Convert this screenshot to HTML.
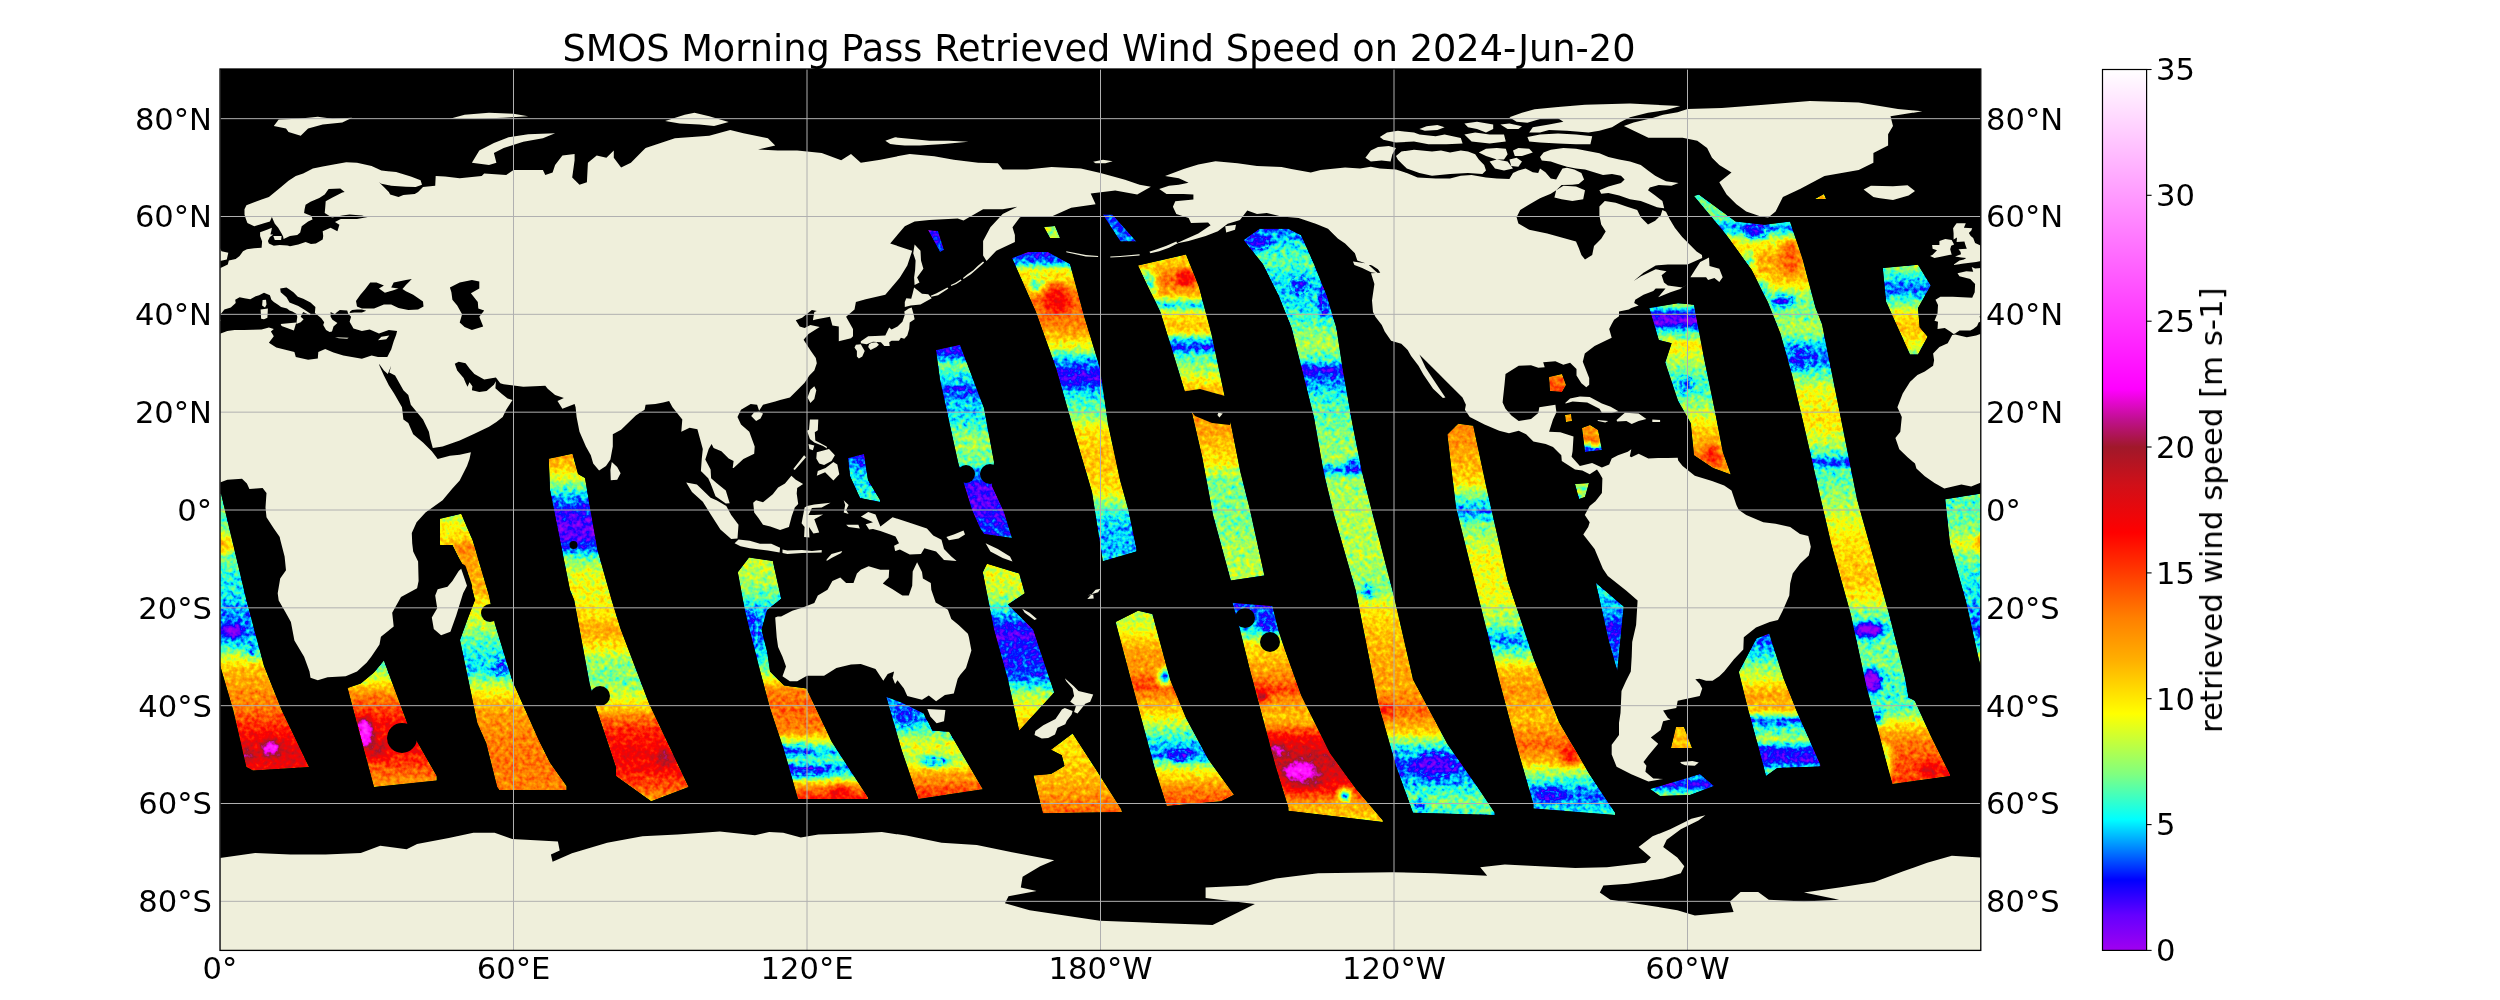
<!DOCTYPE html>
<html><head><meta charset="utf-8"><style>
html,body{margin:0;padding:0;background:#fff;width:2500px;height:1000px;overflow:hidden}
svg{display:block}
text{font-family:'DejaVu Sans','Liberation Sans',sans-serif;font-size:30.6px;fill:#000}
</style></head><body>
<svg width="2500" height="1000" viewBox="0 0 2500 1000">
<defs>
<clipPath id="pc"><rect x="220.0" y="69.0" width="1760.8" height="881.4"/></clipPath>
<linearGradient id="cbg" x1="0" y1="0" x2="0" y2="1"><stop offset="0.0000" stop-color="rgb(255,255,255)"/><stop offset="0.3286" stop-color="rgb(255,24,255)"/><stop offset="0.3629" stop-color="rgb(255,0,255)"/><stop offset="0.3971" stop-color="rgb(192,16,144)"/><stop offset="0.4286" stop-color="rgb(160,24,42)"/><stop offset="0.4714" stop-color="rgb(208,16,24)"/><stop offset="0.5257" stop-color="rgb(255,0,0)"/><stop offset="0.5629" stop-color="rgb(255,48,0)"/><stop offset="0.6229" stop-color="rgb(255,128,0)"/><stop offset="0.6714" stop-color="rgb(255,176,0)"/><stop offset="0.7314" stop-color="rgb(255,255,0)"/><stop offset="0.8000" stop-color="rgb(128,255,128)"/><stop offset="0.8514" stop-color="rgb(0,255,255)"/><stop offset="0.8857" stop-color="rgb(0,128,255)"/><stop offset="0.9200" stop-color="rgb(0,0,255)"/><stop offset="0.9600" stop-color="rgb(100,0,255)"/><stop offset="1.0000" stop-color="rgb(160,0,240)"/></linearGradient>
</defs>
<rect width="2500" height="1000" fill="#fff"/>
<g clip-path="url(#pc)">
<rect x="220.0" y="69.0" width="1760.8" height="881.4" fill="#000"/>
<defs><filter id="cm" filterUnits="userSpaceOnUse" x="0" y="0" width="2500" height="1000" color-interpolation-filters="sRGB"><feTurbulence type="fractalNoise" baseFrequency="0.22" numOctaves="2" seed="7" result="n"/><feColorMatrix in="n" type="matrix" values="1 0 0 0 0 1 0 0 0 0 1 0 0 0 0 0 0 0 0 1" result="ng"/><feComposite in="SourceGraphic" in2="ng" operator="arithmetic" k1="0" k2="1" k3="0.17" k4="-0.085" result="v"/><feComponentTransfer in="v" result="c"><feFuncR type="table" tableValues="0.6275 0.5451 0.4588 0.3647 0.2235 0.0824 0.0000 0.0000 0.0000 0.0000 0.0000 0.0824 0.2235 0.3608 0.5020 0.6039 0.7098 0.8118 0.9176 1.0000 1.0000 1.0000 1.0000 1.0000 1.0000 1.0000 1.0000 1.0000 1.0000 1.0000 1.0000 1.0000 1.0000 1.0000 0.9608 0.9137 0.8627 0.8157 0.7529 0.6902 0.6275 0.6863 0.7412 0.8353 0.9373 1.0000 1.0000 1.0000 1.0000 1.0000 1.0000 1.0000 1.0000 1.0000 1.0000 1.0000 1.0000 1.0000 1.0000 1.0000 1.0000 1.0000 1.0000 1.0000 1.0000 1.0000 1.0000 1.0000 1.0000 1.0000 1.0000"/><feFuncG type="table" tableValues="0.0000 0.0000 0.0000 0.0000 0.0000 0.0000 0.0824 0.2941 0.5020 0.7098 0.9176 1.0000 1.0000 1.0000 1.0000 1.0000 1.0000 1.0000 1.0000 0.9843 0.9098 0.8392 0.7647 0.6902 0.6353 0.5804 0.5255 0.4588 0.3843 0.3059 0.2314 0.1608 0.0863 0.0157 0.0118 0.0314 0.0471 0.0627 0.0745 0.0824 0.0941 0.0784 0.0667 0.0431 0.0157 0.0157 0.0549 0.0941 0.1333 0.1725 0.2118 0.2510 0.2902 0.3294 0.3686 0.4078 0.4471 0.4863 0.5255 0.5686 0.6078 0.6471 0.6863 0.7255 0.7647 0.8039 0.8431 0.8824 0.9216 0.9608 1.0000"/><feFuncB type="table" tableValues="0.9412 0.9608 0.9843 1.0000 1.0000 1.0000 1.0000 1.0000 1.0000 1.0000 1.0000 0.9176 0.7804 0.6392 0.5020 0.3961 0.2941 0.1882 0.0824 0.0000 0.0000 0.0000 0.0000 0.0000 0.0000 0.0000 0.0000 0.0000 0.0000 0.0000 0.0000 0.0000 0.0000 0.0000 0.0196 0.0431 0.0706 0.0941 0.1176 0.1412 0.1647 0.3451 0.5294 0.7098 0.8902 1.0000 1.0000 1.0000 1.0000 1.0000 1.0000 1.0000 1.0000 1.0000 1.0000 1.0000 1.0000 1.0000 1.0000 1.0000 1.0000 1.0000 1.0000 1.0000 1.0000 1.0000 1.0000 1.0000 1.0000 1.0000 1.0000"/><feFuncA type="identity"/></feComponentTransfer><feComposite in="c" in2="SourceAlpha" operator="in"/></filter><filter id="bl" x="-50%" y="-50%" width="200%" height="200%"><feGaussianBlur stdDeviation="3"/></filter><linearGradient id="g_SA" gradientUnits="userSpaceOnUse" x1="0" y1="493.5" x2="0" y2="770.5"><stop offset="0.0054" stop-color="#2f2f2f"/><stop offset="0.0957" stop-color="#2f2f2f"/><stop offset="0.1498" stop-color="#3a3a3a"/><stop offset="0.1859" stop-color="#424242"/><stop offset="0.2220" stop-color="#333333"/><stop offset="0.2942" stop-color="#2a2a2a"/><stop offset="0.3845" stop-color="#242424"/><stop offset="0.4278" stop-color="#1f1f1f"/><stop offset="0.4639" stop-color="#1c1c1c"/><stop offset="0.5108" stop-color="#1f1f1f"/><stop offset="0.5469" stop-color="#262626"/><stop offset="0.5830" stop-color="#3a3a3a"/><stop offset="0.6300" stop-color="#505050"/><stop offset="0.7094" stop-color="#5b5b5b"/><stop offset="0.7816" stop-color="#626262"/><stop offset="0.8357" stop-color="#717171"/><stop offset="0.8899" stop-color="#7c7c7c"/><stop offset="0.9440" stop-color="#838383"/><stop offset="0.9982" stop-color="#7c7c7c"/></linearGradient><clipPath id="c_SA"><path d="M184.7,499.2L221.0,493.5L246.4,600.0L264.0,666.0L281.6,710.0L308.0,765.0L309.0,767.0L253.0,770.5L246.4,767.0L233.2,710.0L218.3,659.2L205.5,601.6L189.5,544.0ZM1945.2,499.2L1981.5,493.5L2006.9,600.0L2024.5,666.0L2042.1,710.0L2068.5,765.0L2069.5,767.0L2013.5,770.5L2006.9,767.0L1993.7,710.0L1978.8,659.2L1966.0,601.6L1950.0,544.0Z"/></clipPath><linearGradient id="g_B" gradientUnits="userSpaceOnUse" x1="0" y1="660.5" x2="0" y2="787.0"><stop offset="0.0000" stop-color="#2c2c2c"/><stop offset="0.1542" stop-color="#424242"/><stop offset="0.2727" stop-color="#5f5f5f"/><stop offset="0.3913" stop-color="#6d6d6d"/><stop offset="0.5099" stop-color="#787878"/><stop offset="0.6680" stop-color="#7c7c7c"/><stop offset="0.8261" stop-color="#6d6d6d"/><stop offset="1.0000" stop-color="#575757"/></linearGradient><clipPath id="c_B"><path d="M347.6,688.0L360.8,683.6L374.0,672.6L383.9,660.5L408.1,725.4L419.1,745.2L436.7,776.0L436.7,780.4L374.0,787.0Z"/></clipPath><linearGradient id="g_C" gradientUnits="userSpaceOnUse" x1="0" y1="513.8" x2="0" y2="790.0"><stop offset="0.0009" stop-color="#3e3e3e"/><stop offset="0.0588" stop-color="#454545"/><stop offset="0.1131" stop-color="#505050"/><stop offset="0.1674" stop-color="#575757"/><stop offset="0.2760" stop-color="#545454"/><stop offset="0.3122" stop-color="#494949"/><stop offset="0.3846" stop-color="#3e3e3e"/><stop offset="0.4570" stop-color="#2f2f2f"/><stop offset="0.5113" stop-color="#282828"/><stop offset="0.5656" stop-color="#242424"/><stop offset="0.6090" stop-color="#373737"/><stop offset="0.6742" stop-color="#505050"/><stop offset="0.7466" stop-color="#5b5b5b"/><stop offset="0.8190" stop-color="#5f5f5f"/><stop offset="0.8914" stop-color="#626262"/><stop offset="1.0000" stop-color="#5f5f5f"/></linearGradient><clipPath id="c_C"><path d="M440.0,518.8L461.2,513.8L472.5,540.0L488.8,595.0L495.0,624.2L512.6,681.4L539.0,740.8L550.0,762.8L566.5,785.9L566.5,790.0L499.4,790.0L497.2,787.0L486.2,743.0L477.4,723.2L460.0,640.0L468.0,618.0L475.0,600.0L472.5,590.0L467.5,572.5L460.0,560.0L452.5,545.0L440.0,545.0Z"/></clipPath><linearGradient id="g_D" gradientUnits="userSpaceOnUse" x1="0" y1="453.8" x2="0" y2="801.3"><stop offset="0.0036" stop-color="#575757"/><stop offset="0.0468" stop-color="#4c4c4c"/><stop offset="0.0899" stop-color="#333333"/><stop offset="0.1331" stop-color="#1d1d1d"/><stop offset="0.1676" stop-color="#121212"/><stop offset="0.2050" stop-color="#0b0b0b"/><stop offset="0.2424" stop-color="#0b0b0b"/><stop offset="0.2712" stop-color="#1a1a1a"/><stop offset="0.3057" stop-color="#333333"/><stop offset="0.3489" stop-color="#424242"/><stop offset="0.4208" stop-color="#454545"/><stop offset="0.4640" stop-color="#494949"/><stop offset="0.5071" stop-color="#575757"/><stop offset="0.5503" stop-color="#494949"/><stop offset="0.5934" stop-color="#373737"/><stop offset="0.6510" stop-color="#333333"/><stop offset="0.6941" stop-color="#3e3e3e"/><stop offset="0.7373" stop-color="#505050"/><stop offset="0.7661" stop-color="#666666"/><stop offset="0.8092" stop-color="#757575"/><stop offset="0.8668" stop-color="#7c7c7c"/><stop offset="0.9099" stop-color="#787878"/><stop offset="0.9675" stop-color="#666666"/><stop offset="0.9963" stop-color="#575757"/></linearGradient><clipPath id="c_D"><path d="M548.8,458.8L572.5,453.8L578.0,474.0L585.0,478.0L590.0,507.5L597.5,550.0L611.6,600.0L620.4,628.6L649.0,703.4L688.6,787.0L651.2,801.3L616.0,776.0L616.0,767.2L596.2,707.8L589.6,683.6L574.2,600.0L570.0,590.0L560.0,540.0L550.0,490.0Z"/></clipPath><linearGradient id="g_E" gradientUnits="userSpaceOnUse" x1="0" y1="557.4" x2="0" y2="799.0"><stop offset="0.0000" stop-color="#3e3e3e"/><stop offset="0.0935" stop-color="#3a3a3a"/><stop offset="0.1763" stop-color="#2c2c2c"/><stop offset="0.2384" stop-color="#212121"/><stop offset="0.3419" stop-color="#212121"/><stop offset="0.4247" stop-color="#282828"/><stop offset="0.4868" stop-color="#3a3a3a"/><stop offset="0.5488" stop-color="#5f5f5f"/><stop offset="0.6316" stop-color="#666666"/><stop offset="0.7144" stop-color="#5f5f5f"/><stop offset="0.7765" stop-color="#333333"/><stop offset="0.8055" stop-color="#212121"/><stop offset="0.8386" stop-color="#2f2f2f"/><stop offset="0.8717" stop-color="#1d1d1d"/><stop offset="0.9048" stop-color="#2f2f2f"/><stop offset="0.9545" stop-color="#5f5f5f"/><stop offset="1.0000" stop-color="#757575"/></linearGradient><clipPath id="c_E"><path d="M737.8,572.2L749.0,557.4L772.8,561.0L781.2,598.8L767.2,610.0L761.6,629.6L767.2,652.0L770.0,671.6L784.0,685.6L806.4,688.4L831.6,741.6L868.0,797.6L868.0,799.0L798.0,799.0L784.0,750.0L770.0,708.0L758.8,666.0L744.8,610.0Z"/></clipPath><linearGradient id="g_F" gradientUnits="userSpaceOnUse" x1="0" y1="454.0" x2="0" y2="502.0"><stop offset="0.0000" stop-color="#161616"/><stop offset="0.3333" stop-color="#242424"/><stop offset="0.7500" stop-color="#282828"/><stop offset="1.0000" stop-color="#2c2c2c"/></linearGradient><clipPath id="c_F"><path d="M848.0,458.0L864.0,454.0L868.0,480.0L880.0,500.0L880.0,502.0L860.0,498.0L850.0,476.0Z"/></clipPath><linearGradient id="g_G" gradientUnits="userSpaceOnUse" x1="0" y1="696.8" x2="0" y2="799.0"><stop offset="0.0020" stop-color="#212121"/><stop offset="0.1781" stop-color="#1d1d1d"/><stop offset="0.3249" stop-color="#2c2c2c"/><stop offset="0.4716" stop-color="#424242"/><stop offset="0.6184" stop-color="#3a3a3a"/><stop offset="0.7652" stop-color="#575757"/><stop offset="0.9119" stop-color="#6a6a6a"/><stop offset="1.0000" stop-color="#717171"/></linearGradient><clipPath id="c_G"><path d="M886.2,696.8L901.6,702.4L924.0,713.6L932.4,730.4L949.2,731.8L982.8,789.2L918.4,799.0L901.6,750.0Z"/></clipPath><linearGradient id="g_H" gradientUnits="userSpaceOnUse" x1="0" y1="344.8" x2="0" y2="538.0"><stop offset="0.0010" stop-color="#0f0f0f"/><stop offset="0.0528" stop-color="#161616"/><stop offset="0.1046" stop-color="#333333"/><stop offset="0.1822" stop-color="#242424"/><stop offset="0.2340" stop-color="#161616"/><stop offset="0.2857" stop-color="#212121"/><stop offset="0.3892" stop-color="#282828"/><stop offset="0.4928" stop-color="#373737"/><stop offset="0.5963" stop-color="#333333"/><stop offset="0.6480" stop-color="#242424"/><stop offset="0.7257" stop-color="#0f0f0f"/><stop offset="0.8033" stop-color="#0b0b0b"/><stop offset="0.9068" stop-color="#121212"/><stop offset="1.0000" stop-color="#1a1a1a"/></linearGradient><linearGradient id="g_I1" gradientUnits="userSpaceOnUse" x1="0" y1="563.8" x2="0" y2="730.4"><stop offset="0.0012" stop-color="#424242"/><stop offset="0.1573" stop-color="#3e3e3e"/><stop offset="0.2473" stop-color="#2f2f2f"/><stop offset="0.3373" stop-color="#1a1a1a"/><stop offset="0.4274" stop-color="#0d0d0d"/><stop offset="0.5174" stop-color="#161616"/><stop offset="0.6074" stop-color="#141414"/><stop offset="0.6975" stop-color="#1d1d1d"/><stop offset="0.7875" stop-color="#3a3a3a"/><stop offset="0.9076" stop-color="#494949"/><stop offset="0.9976" stop-color="#505050"/></linearGradient><linearGradient id="g_I2" gradientUnits="userSpaceOnUse" x1="0" y1="733.6" x2="0" y2="813.3"><stop offset="0.0050" stop-color="#494949"/><stop offset="0.3312" stop-color="#4c4c4c"/><stop offset="0.7077" stop-color="#575757"/><stop offset="0.9962" stop-color="#666666"/></linearGradient><linearGradient id="g_J1" gradientUnits="userSpaceOnUse" x1="0" y1="252.0" x2="0" y2="561.2"><stop offset="0.0000" stop-color="#0f0f0f"/><stop offset="0.0323" stop-color="#1d1d1d"/><stop offset="0.0582" stop-color="#424242"/><stop offset="0.1067" stop-color="#545454"/><stop offset="0.1552" stop-color="#666666"/><stop offset="0.2199" stop-color="#626262"/><stop offset="0.2684" stop-color="#545454"/><stop offset="0.3169" stop-color="#3a3a3a"/><stop offset="0.3493" stop-color="#212121"/><stop offset="0.3978" stop-color="#0f0f0f"/><stop offset="0.4301" stop-color="#161616"/><stop offset="0.4625" stop-color="#282828"/><stop offset="0.5272" stop-color="#333333"/><stop offset="0.5757" stop-color="#494949"/><stop offset="0.6727" stop-color="#505050"/><stop offset="0.7697" stop-color="#494949"/><stop offset="0.8182" stop-color="#333333"/><stop offset="0.8668" stop-color="#242424"/><stop offset="0.9314" stop-color="#212121"/><stop offset="0.9961" stop-color="#242424"/></linearGradient><clipPath id="c_J1"><path d="M1012.0,258.0L1028.0,252.0L1048.0,252.0L1070.0,264.0L1084.0,316.0L1100.0,368.0L1108.0,424.0L1120.0,480.0L1128.4,510.0L1136.4,548.4L1136.4,551.6L1102.8,561.2L1092.0,492.0L1072.0,424.0L1056.0,368.0L1036.0,312.0Z"/></clipPath><linearGradient id="g_J2" gradientUnits="userSpaceOnUse" x1="0" y1="610.8" x2="0" y2="806.0"><stop offset="0.0010" stop-color="#3a3a3a"/><stop offset="0.0984" stop-color="#424242"/><stop offset="0.2008" stop-color="#575757"/><stop offset="0.3033" stop-color="#5b5b5b"/><stop offset="0.3801" stop-color="#6d6d6d"/><stop offset="0.4570" stop-color="#575757"/><stop offset="0.5338" stop-color="#494949"/><stop offset="0.6107" stop-color="#333333"/><stop offset="0.6875" stop-color="#242424"/><stop offset="0.7387" stop-color="#1d1d1d"/><stop offset="0.8156" stop-color="#424242"/><stop offset="0.9180" stop-color="#5f5f5f"/><stop offset="1.0000" stop-color="#6d6d6d"/></linearGradient><clipPath id="c_J2"><path d="M1115.6,622.0L1138.0,610.8L1152.4,614.0L1170.0,679.6L1186.0,718.0L1208.4,759.6L1234.0,794.8L1221.2,801.2L1166.8,806.0L1154.0,766.0L1141.2,718.0L1128.4,670.0Z"/></clipPath><linearGradient id="g_K" gradientUnits="userSpaceOnUse" x1="0" y1="214.4" x2="0" y2="241.6"><stop offset="0.0000" stop-color="#161616"/><stop offset="0.9779" stop-color="#1d1d1d"/></linearGradient><linearGradient id="g_L1" gradientUnits="userSpaceOnUse" x1="0" y1="254.4" x2="0" y2="580.4"><stop offset="0.0000" stop-color="#494949"/><stop offset="0.0325" stop-color="#505050"/><stop offset="0.0785" stop-color="#666666"/><stop offset="0.1245" stop-color="#505050"/><stop offset="0.1552" stop-color="#242424"/><stop offset="0.1859" stop-color="#494949"/><stop offset="0.2319" stop-color="#505050"/><stop offset="0.2626" stop-color="#242424"/><stop offset="0.2871" stop-color="#161616"/><stop offset="0.3086" stop-color="#2c2c2c"/><stop offset="0.3699" stop-color="#3e3e3e"/><stop offset="0.4313" stop-color="#575757"/><stop offset="0.5387" stop-color="#575757"/><stop offset="0.6307" stop-color="#494949"/><stop offset="0.6920" stop-color="#333333"/><stop offset="0.8147" stop-color="#333333"/><stop offset="0.9374" stop-color="#3a3a3a"/><stop offset="0.9988" stop-color="#3a3a3a"/></linearGradient><clipPath id="c_L1"><path d="M1138.0,265.6L1186.0,254.4L1198.8,286.4L1211.6,334.4L1224.4,395.2L1230.8,424.0L1240.4,472.0L1250.0,510.0L1264.4,575.6L1230.8,580.4L1213.0,515.0L1202.0,456.0L1192.4,414.4L1186.0,395.2L1173.2,353.6L1160.4,312.0Z"/></clipPath><linearGradient id="g_L2" gradientUnits="userSpaceOnUse" x1="0" y1="602.8" x2="0" y2="822.0"><stop offset="0.0009" stop-color="#161616"/><stop offset="0.0557" stop-color="#1a1a1a"/><stop offset="0.1241" stop-color="#242424"/><stop offset="0.1925" stop-color="#494949"/><stop offset="0.3066" stop-color="#575757"/><stop offset="0.3978" stop-color="#6d6d6d"/><stop offset="0.4662" stop-color="#575757"/><stop offset="0.5347" stop-color="#505050"/><stop offset="0.6031" stop-color="#757575"/><stop offset="0.6943" stop-color="#8a8a8a"/><stop offset="0.7856" stop-color="#838383"/><stop offset="0.8540" stop-color="#757575"/><stop offset="0.9224" stop-color="#575757"/><stop offset="1.0000" stop-color="#494949"/></linearGradient><clipPath id="c_L2"><path d="M1232.4,602.8L1272.4,606.0L1278.8,631.6L1285.2,650.8L1301.2,695.6L1330.0,753.2L1355.6,788.4L1382.8,820.4L1382.8,822.0L1288.4,810.8L1288.4,807.6L1275.6,766.0L1262.8,718.0L1250.0,670.0L1240.4,631.6Z"/></clipPath><linearGradient id="g_M" gradientUnits="userSpaceOnUse" x1="0" y1="228.8" x2="0" y2="815.0"><stop offset="0.0003" stop-color="#1a1a1a"/><stop offset="0.0276" stop-color="#282828"/><stop offset="0.0532" stop-color="#2f2f2f"/><stop offset="0.0788" stop-color="#282828"/><stop offset="0.1044" stop-color="#242424"/><stop offset="0.1385" stop-color="#282828"/><stop offset="0.1641" stop-color="#2f2f2f"/><stop offset="0.1982" stop-color="#3a3a3a"/><stop offset="0.2238" stop-color="#2c2c2c"/><stop offset="0.2409" stop-color="#0f0f0f"/><stop offset="0.2579" stop-color="#1d1d1d"/><stop offset="0.2921" stop-color="#2c2c2c"/><stop offset="0.3432" stop-color="#333333"/><stop offset="0.3944" stop-color="#373737"/><stop offset="0.4115" stop-color="#1d1d1d"/><stop offset="0.4285" stop-color="#373737"/><stop offset="0.4968" stop-color="#3a3a3a"/><stop offset="0.5650" stop-color="#3a3a3a"/><stop offset="0.6162" stop-color="#333333"/><stop offset="0.6503" stop-color="#494949"/><stop offset="0.7185" stop-color="#545454"/><stop offset="0.7868" stop-color="#575757"/><stop offset="0.8209" stop-color="#666666"/><stop offset="0.8550" stop-color="#505050"/><stop offset="0.8806" stop-color="#2c2c2c"/><stop offset="0.9147" stop-color="#161616"/><stop offset="0.9488" stop-color="#242424"/><stop offset="0.9744" stop-color="#333333"/><stop offset="1.0000" stop-color="#2c2c2c"/></linearGradient><clipPath id="c_M"><path d="M1243.6,240.0L1259.6,228.8L1288.4,228.8L1301.2,235.2L1314.0,264.0L1326.8,296.0L1336.4,328.0L1342.8,369.6L1352.4,424.0L1362.0,472.0L1371.6,510.0L1394.0,596.4L1413.0,679.5L1447.4,744.0L1477.5,787.0L1494.7,812.8L1494.7,815.0L1413.0,812.8L1395.8,765.5L1378.0,702.0L1355.6,590.0L1334.0,515.0L1323.6,472.0L1314.0,417.6L1301.2,366.4L1291.6,328.0L1278.8,296.0L1262.8,264.0Z"/></clipPath><linearGradient id="g_N" gradientUnits="userSpaceOnUse" x1="0" y1="423.7" x2="0" y2="815.0"><stop offset="0.0008" stop-color="#5f5f5f"/><stop offset="0.0672" stop-color="#575757"/><stop offset="0.1439" stop-color="#4c4c4c"/><stop offset="0.1950" stop-color="#2c2c2c"/><stop offset="0.2257" stop-color="#1d1d1d"/><stop offset="0.2589" stop-color="#333333"/><stop offset="0.3483" stop-color="#454545"/><stop offset="0.4505" stop-color="#424242"/><stop offset="0.5144" stop-color="#333333"/><stop offset="0.5528" stop-color="#1d1d1d"/><stop offset="0.5911" stop-color="#333333"/><stop offset="0.6294" stop-color="#505050"/><stop offset="0.6806" stop-color="#5b5b5b"/><stop offset="0.7572" stop-color="#505050"/><stop offset="0.8211" stop-color="#666666"/><stop offset="0.8646" stop-color="#505050"/><stop offset="0.8901" stop-color="#3a3a3a"/><stop offset="0.9233" stop-color="#242424"/><stop offset="0.9489" stop-color="#1a1a1a"/><stop offset="0.9744" stop-color="#212121"/><stop offset="1.0000" stop-color="#2c2c2c"/></linearGradient><clipPath id="c_N"><path d="M1447.4,434.4L1458.2,423.7L1473.2,425.8L1486.1,486.0L1507.6,580.6L1533.4,658.0L1559.2,722.5L1589.3,774.1L1615.1,812.8L1615.1,815.0L1533.4,808.5L1533.4,804.2L1516.2,744.0L1499.0,679.5L1477.5,593.5L1456.0,507.5Z"/></clipPath><linearGradient id="g_O1" gradientUnits="userSpaceOnUse" x1="0" y1="582.8" x2="0" y2="670.9"><stop offset="0.0023" stop-color="#282828"/><stop offset="0.3087" stop-color="#212121"/><stop offset="0.5358" stop-color="#121212"/><stop offset="0.7628" stop-color="#1a1a1a"/><stop offset="1.0000" stop-color="#282828"/></linearGradient><linearGradient id="g_O" gradientUnits="userSpaceOnUse" x1="0" y1="633.6" x2="0" y2="776.0"><stop offset="0.0028" stop-color="#161616"/><stop offset="0.1152" stop-color="#212121"/><stop offset="0.2205" stop-color="#333333"/><stop offset="0.3258" stop-color="#424242"/><stop offset="0.4312" stop-color="#575757"/><stop offset="0.5365" stop-color="#505050"/><stop offset="0.6067" stop-color="#1a1a1a"/><stop offset="0.6770" stop-color="#2c2c2c"/><stop offset="0.7472" stop-color="#3a3a3a"/><stop offset="0.8174" stop-color="#121212"/><stop offset="0.8876" stop-color="#0f0f0f"/><stop offset="0.9579" stop-color="#2c2c2c"/></linearGradient><linearGradient id="g_P" gradientUnits="userSpaceOnUse" x1="0" y1="303.2" x2="0" y2="474.4"><stop offset="0.0000" stop-color="#3a3a3a"/><stop offset="0.0689" stop-color="#0f0f0f"/><stop offset="0.1098" stop-color="#070707"/><stop offset="0.1565" stop-color="#242424"/><stop offset="0.2442" stop-color="#494949"/><stop offset="0.3318" stop-color="#3a3a3a"/><stop offset="0.4486" stop-color="#2c2c2c"/><stop offset="0.5362" stop-color="#2f2f2f"/><stop offset="0.6238" stop-color="#3a3a3a"/><stop offset="0.7114" stop-color="#494949"/><stop offset="0.8283" stop-color="#575757"/><stop offset="0.9159" stop-color="#626262"/><stop offset="0.9977" stop-color="#575757"/></linearGradient><clipPath id="c_P"><path d="M1649.2,308.0L1678.0,303.2L1694.0,304.8L1703.6,356.0L1714.8,410.4L1722.8,452.0L1730.8,474.4L1713.2,468.0L1694.0,455.2L1690.8,423.2L1678.0,400.8L1665.2,362.4L1671.6,343.2L1658.8,340.0Z"/></clipPath><linearGradient id="g_Q" gradientUnits="userSpaceOnUse" x1="0" y1="194.4" x2="0" y2="784.0"><stop offset="0.0010" stop-color="#2c2c2c"/><stop offset="0.0349" stop-color="#333333"/><stop offset="0.0570" stop-color="#1d1d1d"/><stop offset="0.0773" stop-color="#424242"/><stop offset="0.1113" stop-color="#575757"/><stop offset="0.1452" stop-color="#505050"/><stop offset="0.1655" stop-color="#3a3a3a"/><stop offset="0.1791" stop-color="#333333"/><stop offset="0.2045" stop-color="#333333"/><stop offset="0.2300" stop-color="#3a3a3a"/><stop offset="0.2554" stop-color="#242424"/><stop offset="0.2809" stop-color="#1a1a1a"/><stop offset="0.3012" stop-color="#2c2c2c"/><stop offset="0.3318" stop-color="#424242"/><stop offset="0.3826" stop-color="#494949"/><stop offset="0.4166" stop-color="#3e3e3e"/><stop offset="0.4420" stop-color="#2c2c2c"/><stop offset="0.4539" stop-color="#161616"/><stop offset="0.4674" stop-color="#2c2c2c"/><stop offset="0.5183" stop-color="#373737"/><stop offset="0.5862" stop-color="#494949"/><stop offset="0.6540" stop-color="#505050"/><stop offset="0.6879" stop-color="#454545"/><stop offset="0.7083" stop-color="#333333"/><stop offset="0.7303" stop-color="#2c2c2c"/><stop offset="0.7558" stop-color="#2f2f2f"/><stop offset="0.7897" stop-color="#333333"/><stop offset="0.8236" stop-color="#2c2c2c"/><stop offset="0.8491" stop-color="#2c2c2c"/><stop offset="0.8745" stop-color="#2f2f2f"/><stop offset="0.8999" stop-color="#494949"/><stop offset="0.9254" stop-color="#5f5f5f"/><stop offset="0.9593" stop-color="#6a6a6a"/><stop offset="1.0000" stop-color="#6d6d6d"/></linearGradient><clipPath id="c_Q"><path d="M1694.0,196.0L1698.8,194.4L1735.6,221.6L1764.4,224.8L1790.0,221.6L1802.8,260.0L1815.6,308.0L1822.0,324.0L1828.4,356.0L1838.0,404.0L1850.8,468.0L1857.2,500.0L1869.5,544.0L1889.2,614.4L1905.2,678.4L1908.4,697.6L1914.8,700.8L1930.8,736.0L1950.0,774.4L1950.0,776.0L1892.4,784.0L1879.6,736.0L1866.8,688.0L1850.8,614.4L1831.3,544.0L1821.0,500.0L1813.7,468.0L1802.7,420.0L1792.0,375.0L1780.4,333.6L1767.6,301.6L1751.6,269.6L1726.0,234.4Z"/></clipPath><linearGradient id="g_R" gradientUnits="userSpaceOnUse" x1="0" y1="264.8" x2="0" y2="354.4"><stop offset="0.0022" stop-color="#3a3a3a"/><stop offset="0.1696" stop-color="#242424"/><stop offset="0.2812" stop-color="#1a1a1a"/><stop offset="0.3929" stop-color="#2c2c2c"/><stop offset="0.5603" stop-color="#494949"/><stop offset="0.7277" stop-color="#505050"/><stop offset="0.8951" stop-color="#424242"/><stop offset="0.9955" stop-color="#3a3a3a"/></linearGradient><linearGradient id="g_gom" gradientUnits="userSpaceOnUse" x1="0" y1="374.0" x2="0" y2="392.0"><stop offset="0.0000" stop-color="#5f5f5f"/><stop offset="1.0000" stop-color="#6d6d6d"/></linearGradient><linearGradient id="g_car" gradientUnits="userSpaceOnUse" x1="0" y1="425.0" x2="0" y2="452.0"><stop offset="0.0000" stop-color="#575757"/><stop offset="0.5556" stop-color="#5f5f5f"/><stop offset="0.8519" stop-color="#1d1d1d"/><stop offset="1.0000" stop-color="#121212"/></linearGradient><clipPath id="c_car"><path d="M1582.0,428.0L1590.0,425.0L1598.0,430.0L1602.0,450.0L1585.0,452.0Z"/></clipPath><linearGradient id="g_car2" gradientUnits="userSpaceOnUse" x1="0" y1="414.0" x2="0" y2="422.0"><stop offset="0.0000" stop-color="#575757"/><stop offset="1.0000" stop-color="#575757"/></linearGradient><linearGradient id="g_pan" gradientUnits="userSpaceOnUse" x1="0" y1="483.0" x2="0" y2="499.0"><stop offset="0.0000" stop-color="#3a3a3a"/><stop offset="1.0000" stop-color="#333333"/></linearGradient><linearGradient id="g_ice" gradientUnits="userSpaceOnUse" x1="0" y1="194.0" x2="0" y2="199.0"><stop offset="0.0000" stop-color="#505050"/><stop offset="1.0000" stop-color="#505050"/></linearGradient><linearGradient id="g_kam" gradientUnits="userSpaceOnUse" x1="0" y1="230.0" x2="0" y2="252.0"><stop offset="0.0000" stop-color="#0b0b0b"/><stop offset="1.0000" stop-color="#1d1d1d"/></linearGradient><linearGradient id="g_ber" gradientUnits="userSpaceOnUse" x1="0" y1="226.0" x2="0" y2="238.0"><stop offset="0.0000" stop-color="#3a3a3a"/><stop offset="1.0000" stop-color="#3a3a3a"/></linearGradient><linearGradient id="g_fk1" gradientUnits="userSpaceOnUse" x1="0" y1="727.0" x2="0" y2="748.0"><stop offset="0.0000" stop-color="#505050"/><stop offset="1.0000" stop-color="#505050"/></linearGradient><linearGradient id="g_fk2" gradientUnits="userSpaceOnUse" x1="0" y1="774.0" x2="0" y2="796.0"><stop offset="0.0000" stop-color="#242424"/><stop offset="0.5000" stop-color="#0f0f0f"/><stop offset="1.0000" stop-color="#3a3a3a"/></linearGradient></defs><g filter="url(#cm)"><path d="M184.7,499.2L221.0,493.5L246.4,600.0L264.0,666.0L281.6,710.0L308.0,765.0L309.0,767.0L253.0,770.5L246.4,767.0L233.2,710.0L218.3,659.2L205.5,601.6L189.5,544.0ZM1945.2,499.2L1981.5,493.5L2006.9,600.0L2024.5,666.0L2042.1,710.0L2068.5,765.0L2069.5,767.0L2013.5,770.5L2006.9,767.0L1993.7,710.0L1978.8,659.2L1966.0,601.6L1950.0,544.0Z" fill="url(#g_SA)"/><g clip-path="url(#c_SA)" filter="url(#bl)"><ellipse cx="271.0" cy="748.0" rx="9.0" ry="7.0" fill="#afafaf"/><ellipse cx="2031.5" cy="748.0" rx="9.0" ry="7.0" fill="#afafaf"/><ellipse cx="222.0" cy="545.0" rx="8.0" ry="8.0" fill="#545454"/><ellipse cx="1982.5" cy="545.0" rx="8.0" ry="8.0" fill="#545454"/><ellipse cx="232.0" cy="631.0" rx="11.0" ry="6.0" fill="#060606"/><ellipse cx="1992.5" cy="631.0" rx="11.0" ry="6.0" fill="#060606"/><ellipse cx="253.0" cy="652.0" rx="5.0" ry="5.0" fill="#161616"/><ellipse cx="2013.5" cy="652.0" rx="5.0" ry="5.0" fill="#161616"/><ellipse cx="246.0" cy="755.0" rx="3.0" ry="8.0" fill="#a0a0a0"/><ellipse cx="2006.5" cy="755.0" rx="3.0" ry="8.0" fill="#a0a0a0"/></g><path d="M347.6,688.0L360.8,683.6L374.0,672.6L383.9,660.5L408.1,725.4L419.1,745.2L436.7,776.0L436.7,780.4L374.0,787.0Z" fill="url(#g_B)"/><g clip-path="url(#c_B)" filter="url(#bl)"><ellipse cx="364.0" cy="733.0" rx="9.0" ry="15.0" fill="#afafaf"/><ellipse cx="378.0" cy="750.0" rx="10.0" ry="8.0" fill="#8a8a8a"/></g><path d="M440.0,518.8L461.2,513.8L472.5,540.0L488.8,595.0L495.0,624.2L512.6,681.4L539.0,740.8L550.0,762.8L566.5,785.9L566.5,790.0L499.4,790.0L497.2,787.0L486.2,743.0L477.4,723.2L460.0,640.0L468.0,618.0L475.0,600.0L472.5,590.0L467.5,572.5L460.0,560.0L452.5,545.0L440.0,545.0Z" fill="url(#g_C)"/><g clip-path="url(#c_C)" filter="url(#bl)"><ellipse cx="501.0" cy="668.0" rx="5.0" ry="7.0" fill="#121212"/><ellipse cx="465.0" cy="550.0" rx="10.0" ry="8.0" fill="#5f5f5f"/></g><path d="M548.8,458.8L572.5,453.8L578.0,474.0L585.0,478.0L590.0,507.5L597.5,550.0L611.6,600.0L620.4,628.6L649.0,703.4L688.6,787.0L651.2,801.3L616.0,776.0L616.0,767.2L596.2,707.8L589.6,683.6L574.2,600.0L570.0,590.0L560.0,540.0L550.0,490.0Z" fill="url(#g_D)"/><g clip-path="url(#c_D)" filter="url(#bl)"><ellipse cx="664.0" cy="758.0" rx="8.0" ry="8.0" fill="#929292"/></g><path d="M737.8,572.2L749.0,557.4L772.8,561.0L781.2,598.8L767.2,610.0L761.6,629.6L767.2,652.0L770.0,671.6L784.0,685.6L806.4,688.4L831.6,741.6L868.0,797.6L868.0,799.0L798.0,799.0L784.0,750.0L770.0,708.0L758.8,666.0L744.8,610.0Z" fill="url(#g_E)"/><g clip-path="url(#c_E)" filter="url(#bl)"><ellipse cx="750.0" cy="630.0" rx="6.0" ry="20.0" fill="#121212"/><ellipse cx="805.0" cy="772.0" rx="25.0" ry="3.0" fill="#0b0b0b"/><ellipse cx="792.0" cy="750.0" rx="20.0" ry="3.0" fill="#121212"/><ellipse cx="840.0" cy="792.0" rx="12.0" ry="6.0" fill="#7c7c7c"/></g><path d="M848.0,458.0L864.0,454.0L868.0,480.0L880.0,500.0L880.0,502.0L860.0,498.0L850.0,476.0Z" fill="url(#g_F)"/><g clip-path="url(#c_F)" filter="url(#bl)"><ellipse cx="862.0" cy="460.0" rx="5.0" ry="5.0" fill="#070707"/></g><path d="M886.2,696.8L901.6,702.4L924.0,713.6L932.4,730.4L949.2,731.8L982.8,789.2L918.4,799.0L901.6,750.0Z" fill="url(#g_G)"/><g clip-path="url(#c_G)" filter="url(#bl)"><ellipse cx="935.0" cy="762.0" rx="15.0" ry="3.0" fill="#0f0f0f"/><ellipse cx="905.0" cy="715.0" rx="8.0" ry="10.0" fill="#121212"/></g><path d="M936.0,350.0L960.0,344.8L984.0,408.0L994.0,462.0L992.0,486.0L1004.0,512.0L1012.0,538.0L984.0,534.0L980.0,528.0L972.0,510.0L964.0,484.0L958.0,462.0L940.0,380.0Z" fill="url(#g_H)"/><path d="M982.8,572.2L987.0,563.8L1019.2,573.6L1024.8,593.2L1008.0,604.4L1033.2,629.6L1038.8,646.4L1054.2,692.6L1019.2,730.4L1008.0,680.0L994.0,629.6Z" fill="url(#g_I1)"/><path d="M1051.0,749.8L1072.6,733.6L1095.0,768.0L1121.2,809.2L1122.0,812.0L1042.9,813.3L1033.5,775.5L1051.0,774.1L1064.5,766.0L1061.8,755.2Z" fill="url(#g_I2)"/><path d="M1012.0,258.0L1028.0,252.0L1048.0,252.0L1070.0,264.0L1084.0,316.0L1100.0,368.0L1108.0,424.0L1120.0,480.0L1128.4,510.0L1136.4,548.4L1136.4,551.6L1102.8,561.2L1092.0,492.0L1072.0,424.0L1056.0,368.0L1036.0,312.0Z" fill="url(#g_J1)"/><g clip-path="url(#c_J1)" filter="url(#bl)"><ellipse cx="1057.0" cy="300.0" rx="13.0" ry="15.0" fill="#787878"/><ellipse cx="1045.0" cy="283.0" rx="3.0" ry="3.0" fill="#242424"/><ellipse cx="1035.0" cy="285.0" rx="6.0" ry="8.0" fill="#2c2c2c"/></g><path d="M1115.6,622.0L1138.0,610.8L1152.4,614.0L1170.0,679.6L1186.0,718.0L1208.4,759.6L1234.0,794.8L1221.2,801.2L1166.8,806.0L1154.0,766.0L1141.2,718.0L1128.4,670.0Z" fill="url(#g_J2)"/><g clip-path="url(#c_J2)" filter="url(#bl)"><ellipse cx="1180.0" cy="755.0" rx="12.0" ry="5.0" fill="#0b0b0b"/><ellipse cx="1165.0" cy="677.0" rx="6.0" ry="8.0" fill="#0f0f0f"/></g><path d="M1102.8,214.4L1112.4,214.4L1136.4,241.6L1120.4,241.6Z" fill="url(#g_K)"/><path d="M1138.0,265.6L1186.0,254.4L1198.8,286.4L1211.6,334.4L1224.4,395.2L1230.8,424.0L1240.4,472.0L1250.0,510.0L1264.4,575.6L1230.8,580.4L1213.0,515.0L1202.0,456.0L1192.4,414.4L1186.0,395.2L1173.2,353.6L1160.4,312.0Z" fill="url(#g_L1)"/><g clip-path="url(#c_L1)" filter="url(#bl)"><ellipse cx="1185.0" cy="278.0" rx="9.0" ry="9.0" fill="#7c7c7c"/><ellipse cx="1147.0" cy="283.0" rx="10.0" ry="14.0" fill="#2f2f2f"/></g><path d="M1232.4,602.8L1272.4,606.0L1278.8,631.6L1285.2,650.8L1301.2,695.6L1330.0,753.2L1355.6,788.4L1382.8,820.4L1382.8,822.0L1288.4,810.8L1288.4,807.6L1275.6,766.0L1262.8,718.0L1250.0,670.0L1240.4,631.6Z" fill="url(#g_L2)"/><g clip-path="url(#c_L2)" filter="url(#bl)"><ellipse cx="1305.0" cy="778.0" rx="20.0" ry="10.0" fill="#929292"/><ellipse cx="1300.0" cy="770.0" rx="16.0" ry="9.0" fill="#ababab"/><ellipse cx="1277.0" cy="750.0" rx="8.0" ry="6.0" fill="#a0a0a0"/><ellipse cx="1262.0" cy="696.0" rx="4.0" ry="6.0" fill="#a0a0a0"/><ellipse cx="1268.0" cy="625.0" rx="6.0" ry="6.0" fill="#070707"/><ellipse cx="1345.0" cy="795.0" rx="6.0" ry="6.0" fill="#0b0b0b"/></g><path d="M1243.6,240.0L1259.6,228.8L1288.4,228.8L1301.2,235.2L1314.0,264.0L1326.8,296.0L1336.4,328.0L1342.8,369.6L1352.4,424.0L1362.0,472.0L1371.6,510.0L1394.0,596.4L1413.0,679.5L1447.4,744.0L1477.5,787.0L1494.7,812.8L1494.7,815.0L1413.0,812.8L1395.8,765.5L1378.0,702.0L1355.6,590.0L1334.0,515.0L1323.6,472.0L1314.0,417.6L1301.2,366.4L1291.6,328.0L1278.8,296.0L1262.8,264.0Z" fill="url(#g_M)"/><g clip-path="url(#c_M)" filter="url(#bl)"><ellipse cx="1258.0" cy="243.0" rx="12.0" ry="6.0" fill="#0b0b0b"/><ellipse cx="1300.0" cy="285.0" rx="8.0" ry="8.0" fill="#121212"/><ellipse cx="1325.0" cy="300.0" rx="4.0" ry="18.0" fill="#070707"/><ellipse cx="1355.0" cy="465.0" rx="6.0" ry="6.0" fill="#0f0f0f"/><ellipse cx="1368.0" cy="592.0" rx="5.0" ry="5.0" fill="#121212"/><ellipse cx="1385.0" cy="710.0" rx="8.0" ry="8.0" fill="#757575"/><ellipse cx="1435.0" cy="765.0" rx="20.0" ry="12.0" fill="#0b0b0b"/><ellipse cx="1420.0" cy="805.0" rx="5.0" ry="5.0" fill="#070707"/></g><path d="M1447.4,434.4L1458.2,423.7L1473.2,425.8L1486.1,486.0L1507.6,580.6L1533.4,658.0L1559.2,722.5L1589.3,774.1L1615.1,812.8L1615.1,815.0L1533.4,808.5L1533.4,804.2L1516.2,744.0L1499.0,679.5L1477.5,593.5L1456.0,507.5Z" fill="url(#g_N)"/><g clip-path="url(#c_N)" filter="url(#bl)"><ellipse cx="1570.0" cy="755.0" rx="10.0" ry="10.0" fill="#757575"/><ellipse cx="1550.0" cy="795.0" rx="12.0" ry="5.0" fill="#070707"/></g><path d="M1595.8,582.8L1623.7,606.4L1617.3,670.9L1608.7,640.8Z" fill="url(#g_O1)"/><path d="M1756.4,638.4L1769.2,633.6L1783.6,678.4L1796.4,710.4L1809.2,739.2L1820.4,764.8L1820.4,766.4L1777.2,768.0L1766.0,776.0L1758.0,745.6L1748.4,710.4L1738.8,672.0Z" fill="url(#g_O)"/><path d="M1649.2,308.0L1678.0,303.2L1694.0,304.8L1703.6,356.0L1714.8,410.4L1722.8,452.0L1730.8,474.4L1713.2,468.0L1694.0,455.2L1690.8,423.2L1678.0,400.8L1665.2,362.4L1671.6,343.2L1658.8,340.0Z" fill="url(#g_P)"/><g clip-path="url(#c_P)" filter="url(#bl)"><ellipse cx="1712.0" cy="455.0" rx="7.0" ry="10.0" fill="#757575"/><ellipse cx="1685.0" cy="385.0" rx="6.0" ry="8.0" fill="#161616"/></g><path d="M1694.0,196.0L1698.8,194.4L1735.6,221.6L1764.4,224.8L1790.0,221.6L1802.8,260.0L1815.6,308.0L1822.0,324.0L1828.4,356.0L1838.0,404.0L1850.8,468.0L1857.2,500.0L1869.5,544.0L1889.2,614.4L1905.2,678.4L1908.4,697.6L1914.8,700.8L1930.8,736.0L1950.0,774.4L1950.0,776.0L1892.4,784.0L1879.6,736.0L1866.8,688.0L1850.8,614.4L1831.3,544.0L1821.0,500.0L1813.7,468.0L1802.7,420.0L1792.0,375.0L1780.4,333.6L1767.6,301.6L1751.6,269.6L1726.0,234.4Z" fill="url(#g_Q)"/><g clip-path="url(#c_Q)" filter="url(#bl)"><ellipse cx="1755.0" cy="232.0" rx="12.0" ry="6.0" fill="#0b0b0b"/><ellipse cx="1790.0" cy="258.0" rx="10.0" ry="18.0" fill="#666666"/><ellipse cx="1748.0" cy="262.0" rx="7.0" ry="12.0" fill="#2f2f2f"/><ellipse cx="1762.0" cy="290.0" rx="7.0" ry="12.0" fill="#2c2c2c"/><ellipse cx="1782.0" cy="301.0" rx="12.0" ry="5.0" fill="#0f0f0f"/><ellipse cx="1800.0" cy="358.0" rx="10.0" ry="10.0" fill="#121212"/><ellipse cx="1930.0" cy="770.0" rx="10.0" ry="8.0" fill="#808080"/><ellipse cx="1868.0" cy="630.0" rx="16.0" ry="7.0" fill="#060606"/><ellipse cx="1871.0" cy="681.0" rx="10.0" ry="12.0" fill="#060606"/><ellipse cx="1877.0" cy="718.0" rx="6.0" ry="6.0" fill="#101010"/><ellipse cx="1885.0" cy="762.0" rx="7.0" ry="20.0" fill="#3e3e3e"/><ellipse cx="1946.0" cy="772.0" rx="3.0" ry="3.0" fill="#a0a0a0"/></g><path d="M1882.8,268.0L1918.0,264.8L1930.8,285.6L1918.0,308.0L1919.6,327.2L1927.6,336.8L1918.0,354.4L1910.0,354.4L1902.0,336.8L1886.0,301.6Z" fill="url(#g_R)"/><path d="M1549.0,377.0L1562.0,374.0L1566.0,385.0L1562.0,392.0L1550.0,391.0Z" fill="url(#g_gom)"/><path d="M1582.0,428.0L1590.0,425.0L1598.0,430.0L1602.0,450.0L1585.0,452.0Z" fill="url(#g_car)"/><g clip-path="url(#c_car)" filter="url(#bl)"><ellipse cx="1595.0" cy="444.0" rx="2.0" ry="2.0" fill="#afafaf"/></g><path d="M1565.0,415.0L1571.0,414.0L1572.0,421.0L1566.0,422.0Z" fill="url(#g_car2)"/><path d="M1575.0,484.0L1589.0,483.0L1585.0,497.0L1579.0,499.0Z" fill="url(#g_pan)"/><path d="M1815.0,199.0L1824.0,194.0L1826.0,199.0Z" fill="url(#g_ice)"/><path d="M928.0,230.0L938.0,231.0L944.0,250.0L940.0,252.0Z" fill="url(#g_kam)"/><path d="M1044.0,227.0L1055.0,226.0L1060.0,238.0L1050.0,238.0Z" fill="url(#g_ber)"/><path d="M1676.0,727.0L1684.0,727.0L1692.0,748.0L1671.0,748.0Z" fill="url(#g_fk1)"/><path d="M1650.0,789.0L1700.0,774.0L1714.0,786.0L1690.0,795.0L1660.0,796.0Z" fill="url(#g_fk2)"/></g><g fill="#000"><circle cx="402.0" cy="738.0" r="15.0"/><circle cx="490.0" cy="613.0" r="9.0"/><circle cx="573.5" cy="545.0" r="4.0"/><circle cx="600.0" cy="696.0" r="10.0"/><circle cx="966.0" cy="474.0" r="9.0"/><circle cx="990.0" cy="474.0" r="10.0"/><circle cx="1245.0" cy="618.0" r="10.0"/><circle cx="1270.0" cy="642.0" r="10.0"/><path d="M1180.0,392.0L1200.0,389.0L1225.0,396.0L1234.0,410.0L1230.0,425.0L1212.0,423.0L1195.0,416.0L1185.0,404.0Z"/></g>
<path d="M192.6,333.9L189.2,331.5L183.8,328.0L176.5,329.0L177.0,321.7L173.5,320.7L176.5,313.4L177.0,305.0L174.5,299.7L179.4,296.7L185.8,296.7L191.6,296.7L201.4,297.2L211.2,297.7L213.6,292.3L214.1,284.0L209.2,279.1L198.5,276.2L196.5,273.2L205.3,271.3L212.2,271.8L210.7,266.9L214.1,268.4L220.5,267.9L227.8,264.4L228.8,260.5L235.7,259.1L239.6,256.1L243.0,251.2L246.9,249.3L254.2,248.3L261.6,247.8L262.1,241.4L260.1,236.1L260.1,232.2L267.0,229.7L271.9,227.7L271.4,230.7L270.4,234.6L273.3,234.6L269.9,237.0L267.9,241.0L268.9,243.4L273.8,245.8L279.7,244.9L287.5,245.4L290.0,246.3L298.3,244.4L305.6,241.9L311.0,243.9L315.9,243.4L322.7,239.5L323.2,236.1L322.7,231.2L330.6,227.7L337.4,231.2L339.4,224.8L335.0,221.9L340.8,218.9L357.0,218.9L367.7,217.0L361.9,215.5L349.6,214.5L342.3,215.5L332.0,217.5L324.7,213.1L325.2,207.7L325.7,201.3L332.5,197.4L342.3,192.5L344.7,192.0L340.3,188.6L328.6,189.1L324.7,194.5L319.3,197.9L310.5,201.8L305.6,204.8L304.6,209.2L304.1,213.1L311.5,216.0L312.5,219.4L308.1,221.4L301.7,226.3L300.2,232.6L297.3,235.1L290.0,236.1L283.6,239.0L283.1,236.6L281.6,233.6L278.2,227.7L274.8,223.8L273.8,221.4L271.9,217.0L269.9,221.4L264.0,223.3L254.2,226.3L247.4,222.9L245.9,218.9L244.5,214.5L244.5,209.2L246.4,205.2L254.2,202.3L261.6,199.4L268.9,196.9L273.8,193.0L281.1,187.1L288.5,180.8L295.8,175.9L303.2,173.5L312.9,168.6L322.7,166.6L335.0,164.2L346.2,162.2L357.0,162.7L371.6,166.1L381.4,170.5L396.1,172.0L410.8,176.4L420.6,180.3L422.0,184.7L415.7,187.1L405.9,186.7L391.2,185.7L381.4,183.7L379.0,182.3L383.9,187.1L388.8,192.0L390.2,194.5L398.5,196.9L403.4,195.0L414.7,194.0L418.1,192.0L423.0,187.1L435.2,185.7L435.7,175.9L445.0,176.4L459.7,178.3L481.7,175.9L484.2,173.5L506.2,174.9L513.5,170.0L542.9,170.0L545.3,174.9L552.6,172.5L555.1,165.1L562.4,155.4L574.6,153.9L574.6,160.2L572.2,177.4L579.5,184.7L586.9,182.3L587.9,162.7L596.7,155.4L606.4,157.8L613.8,150.5L613.8,157.8L621.1,167.6L630.9,162.7L645.6,148.0L674.9,138.2L709.2,135.8L730.2,129.9L743.4,133.3L767.9,138.2L775.2,145.6L758.1,149.5L777.7,150.5L797.2,150.5L821.7,152.9L841.2,160.2L851.0,153.9L860.8,162.7L880.4,159.8L899.9,155.8L909.7,153.9L934.2,156.3L953.8,159.8L978.2,162.7L997.8,163.2L1002.7,169.5L1027.1,169.5L1051.6,167.1L1080.9,168.6L1100.5,173.0L1125.0,179.8L1139.6,184.7L1150.9,186.7L1137.2,194.5L1115.2,190.6L1090.7,193.5L1095.6,204.3L1071.2,207.7L1051.6,216.5L1022.2,216.5L1019.8,217.5L1012.5,227.3L1014.9,235.1L1014.9,241.9L996.3,250.7L986.5,261.0L983.1,255.6L983.1,241.0L990.4,227.3L1002.7,214.1L1017.3,206.7L1002.7,209.2L983.1,209.2L963.5,220.4L957.7,218.5L929.3,219.9L914.6,221.4L904.8,226.3L890.2,243.4L907.3,249.3L912.2,250.7L907.3,265.4L899.9,277.6L885.3,294.8L865.7,299.2L855.9,302.1L854.5,309.4L846.1,316.8L853.0,329.0L853.0,336.3L851.0,338.3L838.8,341.2L838.8,333.9L838.8,326.6L832.4,325.6L830.0,316.8L816.8,319.2L812.9,320.2L814.3,311.9L816.8,310.9L811.9,309.9L802.1,317.8L795.8,320.2L799.7,326.6L804.6,328.0L810.4,325.1L819.7,327.1L808.5,333.9L803.6,339.8L810.9,351.0L815.8,357.9L816.8,363.2L814.3,370.6L809.4,375.5L804.6,382.8L797.2,390.2L789.9,397.5L780.1,399.9L775.2,401.4L763.0,404.8L759.1,410.7L757.1,404.8L750.7,403.9L741.0,409.7L737.5,417.1L741.0,424.4L749.3,431.7L754.7,446.4L754.2,453.7L743.4,459.1L733.6,467.9L732.7,467.9L733.6,461.1L728.7,458.6L721.4,451.3L713.6,447.9L711.6,444.0L708.7,448.9L705.3,459.6L710.6,469.4L711.1,478.2L716.5,483.1L725.8,490.4L729.7,503.2L725.8,503.6L715.5,496.3L710.6,483.6L708.2,478.2L700.9,470.9L701.8,458.6L702.8,448.9L697.4,429.3L689.6,427.8L681.3,431.7L682.3,419.5L672.5,407.3L669.1,400.9L663.2,402.4L655.4,403.9L645.6,404.8L644.6,409.7L635.8,415.6L621.1,429.8L612.8,434.2L612.8,446.4L610.4,459.6L606.0,466.0L599.1,470.4L593.2,463.5L590.8,455.2L585.9,446.4L579.5,431.7L576.6,417.1L575.6,407.3L574.6,403.9L562.4,408.7L557.5,400.9L563.9,398.0L555.1,395.0L547.7,388.7L545.3,385.8L523.3,386.7L503.7,384.3L500.3,383.3L495.9,377.4L484.2,379.4L474.4,374.0L469.5,368.6L465.6,363.2L458.7,361.8L454.8,363.7L457.2,370.6L463.6,377.9L465.6,382.8L467.5,386.7L469.5,382.3L472.4,386.2L471.9,390.2L479.3,392.1L486.6,391.1L493.9,384.8L495.9,381.3L495.4,388.2L501.3,393.6L507.6,398.5L512.5,399.9L506.2,409.7L502.7,417.1L496.4,421.9L489.0,426.8L474.4,433.7L459.7,440.5L442.6,446.4L432.8,447.9L430.3,439.1L428.9,431.7L423.0,419.5L410.8,404.8L408.3,395.0L403.4,390.2L395.1,375.5L389.3,372.5L391.2,365.7L387.8,374.0L383.9,370.6L379.0,363.7L379.5,365.7L383.9,375.5L388.8,385.3L394.1,393.6L402.0,407.3L403.4,419.5L408.3,422.9L413.2,434.2L423.0,442.5L431.8,451.3L437.7,459.1L449.9,455.7L459.7,454.7L470.9,452.3L469.5,459.1L467.0,466.0L459.7,480.6L452.4,488.5L442.6,500.2L425.5,512.4L416.6,522.2L411.8,533.0L412.2,543.3L413.2,551.6L418.1,561.4L418.6,580.9L417.1,588.3L401.0,597.1L392.2,612.7L393.7,626.4L380.9,636.7L379.5,644.5L371.6,656.3L366.8,662.6L357.0,671.4L345.7,676.3L327.6,677.3L317.8,680.2L310.5,677.8L309.5,671.4L304.1,656.8L294.4,640.6L290.9,622.0L285.5,612.2L278.7,600.5L277.7,593.2L280.2,578.5L286.0,570.2L284.6,556.5L280.2,539.4L279.7,536.9L273.8,528.6L266.5,517.3L265.5,507.6L266.5,492.9L262.6,488.0L249.4,489.0L246.9,483.6L242.0,478.7L227.3,479.7L210.2,486.5L200.4,484.6L183.3,488.5L173.5,483.1L163.7,476.2L155.4,468.4L154.0,463.5L146.6,457.2L138.3,449.3L134.4,438.1L139.3,431.7L140.8,417.1L136.4,407.3L141.7,393.6L149.1,381.8L156.4,375.0L163.7,371.6L172.1,365.7L173.0,360.3L172.1,353.5L178.4,347.1L186.7,343.2L191.1,334.9L194.1,334.4L205.8,337.3L215.1,335.4L227.3,331.0L234.7,330.0L244.5,330.0L261.6,329.5L268.9,327.5L273.8,329.0L270.9,331.5L273.8,336.3L268.9,342.7L276.3,347.6L294.4,352.0L295.8,356.9L308.1,359.8L317.8,358.4L318.3,352.0L325.2,349.1L333.5,352.5L343.3,355.4L361.9,358.8L371.6,355.4L378.0,356.9L387.3,356.9L391.2,349.6L393.7,341.2L396.1,334.9L397.1,331.0L388.8,330.0L379.0,333.4L369.7,329.5L361.9,331.0L353.5,328.5L349.6,321.7L351.1,316.8L348.2,313.8L347.2,310.4L339.8,309.9L335.9,312.9L335.0,314.3L330.6,311.9L330.6,316.8L332.5,319.7L337.4,323.1L333.5,326.6L332.0,331.5L329.6,331.9L326.1,330.0L323.2,325.1L324.2,322.2L321.3,318.2L318.3,315.8L314.9,312.9L315.4,307.0L310.5,302.6L303.2,298.7L297.8,296.7L293.4,292.3L289.5,289.4L286.5,287.4L280.2,288.4L280.7,292.3L286.5,297.2L289.5,302.6L298.3,306.0L304.1,309.4L310.5,313.8L310.0,315.3L303.2,311.9L300.7,316.8L303.6,319.2L300.7,322.2L296.3,324.1L297.3,316.8L296.3,313.8L292.4,311.4L289.5,310.4L287.0,308.5L281.1,307.0L277.7,304.5L273.8,302.1L271.4,299.7L269.9,295.3L264.0,292.8L259.1,295.3L255.7,296.2L250.3,299.2L244.5,298.2L239.6,297.2L235.2,299.7L235.7,303.1L230.8,307.5L224.4,309.4L218.5,316.8L221.0,320.7L217.6,322.6L216.1,326.1L212.2,329.0L209.2,330.5L198.5,330.5L194.1,333.4ZM1953.6,333.9L1950.2,331.5L1944.8,328.0L1937.5,329.0L1938.0,321.7L1934.5,320.7L1937.5,313.4L1938.0,305.0L1935.5,299.7L1940.4,296.7L1946.8,296.7L1952.6,296.7L1962.4,297.2L1972.2,297.7L1974.7,292.3L1975.1,284.0L1970.3,279.1L1959.5,276.2L1957.5,273.2L1966.3,271.3L1973.2,271.8L1971.7,266.9L1975.1,268.4L1981.5,267.9L1988.8,264.4L1989.8,260.5L1996.7,259.1L2000.6,256.1L2004.0,251.2L2007.9,249.3L2015.3,248.3L2022.6,247.8L2023.1,241.4L2021.1,236.1L2021.1,232.2L2028.0,229.7L2032.9,227.7L2032.4,230.7L2031.4,234.6L2034.3,234.6L2030.9,237.0L2029.0,241.0L2029.9,243.4L2034.8,245.8L2040.7,244.9L2048.5,245.4L2051.0,246.3L2059.3,244.4L2066.6,241.9L2072.0,243.9L2076.9,243.4L2083.7,239.5L2084.2,236.1L2083.7,231.2L2091.6,227.7L2098.4,231.2L2100.4,224.8L2096.0,221.9L2101.8,218.9L2118.0,218.9L2128.7,217.0L2122.9,215.5L2110.6,214.5L2103.3,215.5L2093.0,217.5L2085.7,213.1L2086.2,207.7L2086.7,201.3L2093.5,197.4L2103.3,192.5L2105.8,192.0L2101.3,188.6L2089.6,189.1L2085.7,194.5L2080.3,197.9L2071.5,201.8L2066.6,204.8L2065.6,209.2L2065.1,213.1L2072.5,216.0L2073.5,219.4L2069.1,221.4L2062.7,226.3L2061.2,232.6L2058.3,235.1L2051.0,236.1L2044.6,239.0L2044.1,236.6L2042.6,233.6L2039.2,227.7L2035.8,223.8L2034.8,221.4L2032.9,217.0L2030.9,221.4L2025.0,223.3L2015.3,226.3L2008.4,222.9L2006.9,218.9L2005.5,214.5L2005.5,209.2L2007.4,205.2L2015.3,202.3L2022.6,199.4L2029.9,196.9L2034.8,193.0L2042.2,187.1L2049.5,180.8L2056.8,175.9L2064.2,173.5L2074.0,168.6L2083.7,166.6L2096.0,164.2L2107.2,162.2L2118.0,162.7L2132.7,166.1L2142.4,170.5L2157.1,172.0L2171.8,176.4L2181.6,180.3L2183.0,184.7L2176.7,187.1L2166.9,186.7L2152.2,185.7L2142.4,183.7L2140.0,182.3L2144.9,187.1L2149.8,192.0L2151.2,194.5L2159.6,196.9L2164.5,195.0L2175.7,194.0L2179.1,192.0L2184.0,187.1L2196.2,185.7L2196.7,175.9L2206.0,176.4L2220.7,178.3L2242.7,175.9L2245.2,173.5L2267.2,174.9L2274.5,170.0L2303.9,170.0L2306.3,174.9L2313.6,172.5L2316.1,165.1L2323.4,155.4L2335.7,153.9L2335.7,160.2L2333.2,177.4L2340.6,184.7L2347.9,182.3L2348.9,162.7L2357.7,155.4L2367.5,157.8L2374.8,150.5L2374.8,157.8L2382.1,167.6L2391.9,162.7L2406.6,148.0L2435.9,138.2L2470.2,135.8L2491.2,129.9L2504.4,133.3L2528.9,138.2L2536.2,145.6L2519.1,149.5L2538.7,150.5L2558.2,150.5L2582.7,152.9L2602.3,160.2L2612.0,153.9L2621.8,162.7L2641.4,159.8L2661.0,155.8L2670.7,153.9L2695.2,156.3L2714.8,159.8L2739.2,162.7L2758.8,163.2L2763.7,169.5L2788.1,169.5L2812.6,167.1L2842.0,168.6L2861.5,173.0L2886.0,179.8L2900.7,184.7L2911.9,186.7L2898.2,194.5L2876.2,190.6L2851.7,193.5L2856.6,204.3L2832.2,207.7L2812.6,216.5L2783.3,216.5L2780.8,217.5L2773.5,227.3L2775.9,235.1L2775.9,241.9L2757.3,250.7L2747.5,261.0L2744.1,255.6L2744.1,241.0L2751.5,227.3L2763.7,214.1L2778.4,206.7L2763.7,209.2L2744.1,209.2L2724.6,220.4L2718.7,218.5L2690.3,219.9L2675.6,221.4L2665.9,226.3L2651.2,243.4L2668.3,249.3L2673.2,250.7L2668.3,265.4L2661.0,277.6L2646.3,294.8L2626.7,299.2L2616.9,302.1L2615.5,309.4L2607.1,316.8L2614.0,329.0L2614.0,336.3L2612.0,338.3L2599.8,341.2L2599.8,333.9L2599.8,326.6L2593.5,325.6L2591.0,316.8L2577.8,319.2L2573.9,320.2L2575.4,311.9L2577.8,310.9L2572.9,309.9L2563.1,317.8L2556.8,320.2L2560.7,326.6L2565.6,328.0L2571.4,325.1L2580.7,327.1L2569.5,333.9L2564.6,339.8L2571.9,351.0L2576.8,357.9L2577.8,363.2L2575.4,370.6L2570.5,375.5L2565.6,382.8L2558.2,390.2L2550.9,397.5L2541.1,399.9L2536.2,401.4L2524.0,404.8L2520.1,410.7L2518.1,404.8L2511.8,403.9L2502.0,409.7L2498.6,417.1L2502.0,424.4L2510.3,431.7L2515.7,446.4L2515.2,453.7L2504.4,459.1L2494.6,467.9L2493.7,467.9L2494.6,461.1L2489.7,458.6L2482.4,451.3L2474.6,447.9L2472.6,444.0L2469.7,448.9L2466.3,459.6L2471.6,469.4L2472.1,478.2L2477.5,483.1L2486.8,490.4L2490.7,503.2L2486.8,503.6L2476.5,496.3L2471.6,483.6L2469.2,478.2L2461.9,470.9L2462.8,458.6L2463.8,448.9L2458.4,429.3L2450.6,427.8L2442.3,431.7L2443.3,419.5L2433.5,407.3L2430.1,400.9L2424.2,402.4L2416.4,403.9L2406.6,404.8L2405.6,409.7L2396.8,415.6L2382.1,429.8L2373.8,434.2L2373.8,446.4L2371.4,459.6L2367.0,466.0L2360.1,470.4L2354.2,463.5L2351.8,455.2L2346.9,446.4L2340.6,431.7L2337.6,417.1L2336.6,407.3L2335.7,403.9L2323.4,408.7L2318.5,400.9L2324.9,398.0L2316.1,395.0L2308.8,388.7L2306.3,385.8L2284.3,386.7L2264.7,384.3L2261.3,383.3L2256.9,377.4L2245.2,379.4L2235.4,374.0L2230.5,368.6L2226.6,363.2L2219.7,361.8L2215.8,363.7L2218.3,370.6L2224.6,377.9L2226.6,382.8L2228.5,386.7L2230.5,382.3L2233.4,386.2L2232.9,390.2L2240.3,392.1L2247.6,391.1L2254.9,384.8L2256.9,381.3L2256.4,388.2L2262.3,393.6L2268.6,398.5L2273.5,399.9L2267.2,409.7L2263.8,417.1L2257.4,421.9L2250.1,426.8L2235.4,433.7L2220.7,440.5L2203.6,446.4L2193.8,447.9L2191.4,439.1L2189.9,431.7L2184.0,419.5L2171.8,404.8L2169.3,395.0L2164.5,390.2L2156.1,375.5L2150.3,372.5L2152.2,365.7L2148.8,374.0L2144.9,370.6L2140.0,363.7L2140.5,365.7L2144.9,375.5L2149.8,385.3L2155.2,393.6L2163.0,407.3L2164.5,419.5L2169.3,422.9L2174.2,434.2L2184.0,442.5L2192.8,451.3L2198.7,459.1L2210.9,455.7L2220.7,454.7L2232.0,452.3L2230.5,459.1L2228.0,466.0L2220.7,480.6L2213.4,488.5L2203.6,500.2L2186.5,512.4L2177.7,522.2L2172.8,533.0L2173.3,543.3L2174.2,551.6L2179.1,561.4L2179.6,580.9L2178.1,588.3L2162.0,597.1L2153.2,612.7L2154.7,626.4L2141.9,636.7L2140.5,644.5L2132.7,656.3L2127.8,662.6L2118.0,671.4L2106.7,676.3L2088.6,677.3L2078.8,680.2L2071.5,677.8L2070.5,671.4L2065.1,656.8L2055.4,640.6L2051.9,622.0L2046.6,612.2L2039.7,600.5L2038.7,593.2L2041.2,578.5L2047.0,570.2L2045.6,556.5L2041.2,539.4L2040.7,536.9L2034.8,528.6L2027.5,517.3L2026.5,507.6L2027.5,492.9L2023.6,488.0L2010.4,489.0L2007.9,483.6L2003.0,478.7L1988.3,479.7L1971.2,486.5L1961.4,484.6L1944.3,488.5L1934.5,483.1L1924.8,476.2L1916.4,468.4L1915.0,463.5L1907.6,457.2L1899.3,449.3L1895.4,438.1L1900.3,431.7L1901.8,417.1L1897.4,407.3L1902.7,393.6L1910.1,381.8L1917.4,375.0L1924.8,371.6L1933.1,365.7L1934.1,360.3L1933.1,353.5L1939.4,347.1L1947.7,343.2L1952.2,334.9L1955.1,334.4L1966.8,337.3L1976.1,335.4L1988.3,331.0L1995.7,330.0L2005.5,330.0L2022.6,329.5L2029.9,327.5L2034.8,329.0L2031.9,331.5L2034.8,336.3L2029.9,342.7L2037.3,347.6L2055.4,352.0L2056.8,356.9L2069.1,359.8L2078.8,358.4L2079.3,352.0L2086.2,349.1L2094.5,352.5L2104.3,355.4L2122.9,358.8L2132.7,355.4L2139.0,356.9L2148.3,356.9L2152.2,349.6L2154.7,341.2L2157.1,334.9L2158.1,331.0L2149.8,330.0L2140.0,333.4L2130.7,329.5L2122.9,331.0L2114.6,328.5L2110.6,321.7L2112.1,316.8L2109.2,313.8L2108.2,310.4L2100.9,309.9L2096.9,312.9L2096.0,314.3L2091.6,311.9L2091.6,316.8L2093.5,319.7L2098.4,323.1L2094.5,326.6L2093.0,331.5L2090.6,331.9L2087.2,330.0L2084.2,325.1L2085.2,322.2L2082.3,318.2L2079.3,315.8L2075.9,312.9L2076.4,307.0L2071.5,302.6L2064.2,298.7L2058.8,296.7L2054.4,292.3L2050.5,289.4L2047.5,287.4L2041.2,288.4L2041.7,292.3L2047.5,297.2L2050.5,302.6L2059.3,306.0L2065.1,309.4L2071.5,313.8L2071.0,315.3L2064.2,311.9L2061.7,316.8L2064.7,319.2L2061.7,322.2L2057.3,324.1L2058.3,316.8L2057.3,313.8L2053.4,311.4L2050.5,310.4L2048.0,308.5L2042.2,307.0L2038.7,304.5L2034.8,302.1L2032.4,299.7L2030.9,295.3L2025.0,292.8L2020.1,295.3L2016.7,296.2L2011.3,299.2L2005.5,298.2L2000.6,297.2L1996.2,299.7L1996.7,303.1L1991.8,307.5L1985.4,309.4L1979.5,316.8L1982.0,320.7L1978.6,322.6L1977.1,326.1L1973.2,329.0L1970.3,330.5L1959.5,330.5L1955.1,333.4ZM1159.2,189.1L1169.0,185.7L1178.8,184.7L1188.6,182.7L1178.8,178.3L1165.1,175.9L1183.7,169.0L1198.3,164.6L1215.5,161.2L1237.5,163.2L1257.0,166.1L1281.5,167.1L1291.3,169.0L1310.8,172.5L1320.6,170.0L1345.1,167.6L1360.0,168.6L1370.8,166.8L1379.8,168.6L1396.0,169.5L1406.8,173.1L1417.6,177.6L1435.6,178.5L1450.0,178.5L1460.8,175.8L1471.6,174.9L1486.0,177.6L1496.8,178.5L1509.4,179.0L1513.0,173.1L1518.4,170.4L1525.6,168.6L1532.8,172.2L1538.2,173.1L1540.0,168.6L1545.4,172.2L1550.8,178.5L1556.2,179.4L1559.8,173.1L1562.5,168.6L1567.0,167.7L1574.2,169.5L1581.4,173.1L1584.1,179.4L1578.7,183.9L1572.4,184.8L1561.6,185.1L1556.2,190.2L1550.8,193.8L1540.0,198.3L1529.2,204.6L1520.2,210.0L1516.6,217.2L1518.4,223.5L1529.2,229.8L1547.2,233.4L1563.4,237.9L1576.0,241.5L1578.7,247.8L1581.4,255.0L1585.0,259.5L1592.2,255.0L1594.0,246.0L1601.2,238.8L1605.7,231.6L1601.2,224.4L1599.4,215.4L1599.4,206.4L1604.8,201.0L1615.6,202.8L1626.4,206.4L1637.2,210.0L1640.8,217.2L1648.0,224.4L1655.2,220.8L1660.6,215.4L1662.4,210.0L1666.0,211.8L1669.6,219.0L1675.0,228.0L1682.2,237.0L1689.4,244.2L1696.6,251.4L1702.0,255.0L1702.2,258.1L1687.5,264.4L1667.9,264.4L1655.7,265.4L1643.5,272.8L1633.7,281.1L1641.0,276.2L1655.7,269.3L1666.5,271.3L1661.6,275.2L1664.0,282.5L1667.9,285.5L1682.6,287.4L1687.5,284.0L1680.2,288.9L1670.4,292.3L1658.2,297.2L1665.5,288.4L1655.7,288.4L1653.3,290.9L1643.5,294.8L1635.2,299.7L1634.2,303.1L1638.6,305.5L1631.3,308.0L1628.8,309.4L1619.0,311.4L1619.0,316.3L1614.1,319.7L1611.7,324.1L1609.2,329.0L1611.7,337.8L1604.4,341.2L1594.6,346.1L1584.8,353.5L1582.8,361.8L1589.2,377.9L1589.2,384.8L1586.3,387.2L1581.4,383.3L1576.5,375.5L1576.5,369.1L1570.1,362.8L1563.3,364.7L1555.4,361.3L1543.2,362.3L1544.7,367.2L1538.3,367.7L1531.0,365.2L1518.7,365.7L1505.5,374.0L1504.6,383.8L1503.1,397.5L1502.6,402.4L1505.5,408.7L1511.4,415.6L1518.7,421.0L1531.0,419.0L1538.3,413.1L1539.3,407.3L1555.4,404.8L1556.4,412.2L1553.0,419.5L1549.1,431.7L1560.3,432.2L1573.5,436.6L1572.6,451.3L1571.6,456.7L1579.9,466.0L1592.1,463.0L1601.9,467.4L1609.2,464.5L1611.7,458.6L1618.0,455.2L1627.8,451.8L1631.3,449.3L1629.8,456.2L1631.3,457.2L1638.6,453.7L1648.4,458.6L1658.2,458.1L1667.9,458.1L1677.7,457.7L1678.2,460.6L1682.6,466.0L1694.8,475.8L1712.0,481.1L1724.2,485.5L1731.5,490.4L1736.4,505.1L1738.9,510.0L1746.2,514.9L1763.3,522.2L1775.6,523.7L1790.2,527.1L1800.0,534.0L1808.3,535.9L1810.8,546.7L1808.8,555.5L1800.0,563.8L1792.7,573.6L1790.2,583.4L1789.3,595.6L1782.9,610.3L1778.0,620.1L1769.7,622.0L1756.0,627.4L1743.8,637.2L1743.3,649.4L1734.0,659.2L1724.2,671.4L1719.3,676.3L1712.5,680.7L1706.1,680.7L1699.7,678.8L1695.3,679.3L1699.7,683.7L1702.2,688.5L1699.7,695.9L1677.7,700.8L1676.3,708.1L1663.1,710.6L1667.9,717.9L1670.4,719.4L1663.1,721.3L1660.6,730.1L1650.8,737.5L1658.2,743.8L1648.4,755.6L1643.5,761.9L1646.4,765.8L1645.4,771.7L1653.3,778.6L1663.1,779.0L1648.4,781.5L1631.3,774.2L1616.6,766.8L1611.7,754.6L1611.7,744.8L1619.0,735.0L1619.0,722.8L1620.5,713.0L1621.5,691.0L1625.9,681.2L1630.8,671.4L1631.7,656.8L1632.2,642.1L1636.1,625.0L1637.6,600.5L1626.4,590.7L1607.8,576.0L1602.9,568.7L1594.6,549.1L1583.3,534.5L1588.2,527.1L1589.7,522.2L1584.8,514.9L1589.7,506.1L1595.5,501.2L1601.9,492.9L1602.4,478.2L1599.5,473.3L1597.0,469.4L1589.7,474.3L1582.3,470.4L1575.0,469.4L1561.8,461.1L1561.3,455.2L1553.0,446.9L1545.7,444.0L1533.4,441.5L1526.1,434.2L1518.7,430.8L1509.0,433.2L1499.2,430.8L1484.5,424.4L1469.8,417.1L1464.9,409.7L1465.9,404.8L1462.5,397.5L1452.7,387.7L1445.4,380.4L1438.0,373.0L1430.7,365.7L1420.9,355.9L1419.4,354.4L1425.8,368.1L1430.7,375.5L1440.5,390.2L1445.4,397.5L1442.9,398.0L1433.1,388.7L1423.4,374.5L1418.5,365.7L1411.1,355.9L1407.7,350.0L1401.3,343.7L1391.1,340.7L1384.7,331.5L1381.8,325.1L1375.4,316.8L1373.0,311.9L1372.0,300.6L1374.4,284.0L1371.0,273.2L1380.3,272.8L1377.9,269.3L1372.0,265.4L1357.3,260.5L1354.9,253.2L1345.1,243.4L1337.8,238.5L1328.0,228.7L1315.7,223.8L1298.6,218.0L1281.5,216.5L1266.8,213.1L1257.0,214.1L1247.3,210.6L1239.9,219.9L1238.5,220.4L1227.7,223.8L1217.9,231.2L1205.7,236.1L1188.6,241.0L1176.3,243.4L1183.7,240.0L1198.3,233.6L1210.6,225.3L1208.1,222.4L1191.0,222.9L1188.6,218.0L1176.3,214.1L1172.9,206.7L1175.3,201.3L1193.4,199.4L1193.4,194.5L1183.7,194.0L1166.5,194.0ZM1623.9,126.0L1648.4,137.7L1682.6,137.7L1697.3,140.7L1707.1,148.0L1712.0,157.8L1719.3,165.1L1731.5,172.5L1719.3,182.3L1726.6,194.5L1736.4,204.3L1746.2,211.6L1760.9,216.5L1768.2,217.5L1775.6,211.6L1782.9,196.9L1800.0,189.1L1824.5,175.9L1858.7,170.0L1873.4,162.7L1873.4,152.9L1888.1,145.6L1888.1,134.3L1893.0,126.0L1890.5,116.2L1922.3,111.3L1897.9,108.9L1858.7,102.5L1809.8,101.1L1760.9,105.0L1721.8,107.9L1687.5,108.9L1677.7,112.3L1663.1,114.8L1653.3,117.7L1633.7,122.6ZM192.1,264.9L202.9,263.5L215.1,262.0L226.8,259.5L228.3,252.7L221.5,251.2L220.0,248.3L219.5,245.4L214.1,242.9L212.2,238.0L209.7,236.1L207.8,233.1L210.2,230.7L211.2,228.2L202.9,227.7L204.8,223.3L195.5,223.3L194.1,225.3L192.1,228.2L192.6,233.6L192.6,239.5L196.0,237.5L195.5,241.9L203.4,241.4L204.3,244.9L205.8,248.8L197.5,249.3L199.5,251.7L199.9,254.2L194.1,256.6L200.4,257.6L205.3,258.1L202.9,259.5L198.5,260.5ZM1953.1,264.9L1963.9,263.5L1976.1,262.0L1987.9,259.5L1989.3,252.7L1982.5,251.2L1981.0,248.3L1980.5,245.4L1975.1,242.9L1973.2,238.0L1970.7,236.1L1968.8,233.1L1971.2,230.7L1972.2,228.2L1963.9,227.7L1965.8,223.3L1956.6,223.3L1955.1,225.3L1953.1,228.2L1953.6,233.6L1953.6,239.5L1957.0,237.5L1956.6,241.9L1964.4,241.4L1965.4,244.9L1966.8,248.8L1958.5,249.3L1960.5,251.7L1961.0,254.2L1955.1,256.6L1961.4,257.6L1966.3,258.1L1963.9,259.5L1959.5,260.5ZM1951.7,254.7L1950.2,249.3L1951.2,245.8L1954.1,244.4L1951.7,240.0L1945.3,239.0L1939.4,241.0L1939.4,244.9L1932.1,244.9L1932.6,248.8L1937.0,250.3L1932.6,254.7L1930.1,256.1L1934.5,258.1L1941.9,256.6L1950.2,254.7ZM1873.4,196.9L1863.6,189.6L1870.9,185.7L1893.0,186.2L1907.6,185.2L1915.0,191.1L1908.6,195.5L1893.0,199.9L1878.3,197.9ZM273.8,126.0L278.7,119.6L298.3,118.7L317.8,116.7L332.5,118.7L352.1,117.7L342.3,122.6L322.7,124.5L308.1,128.4L300.7,135.8L288.5,131.9L286.0,128.4ZM471.9,162.7L479.3,150.5L493.9,143.1L508.6,137.3L528.2,134.3L555.1,133.3L542.9,138.2L523.3,141.7L503.7,148.0L493.9,152.9L496.4,162.7L489.0,165.1ZM449.9,118.7L464.6,114.8L489.0,112.8L513.5,113.8L528.2,116.2L503.7,117.7L474.4,118.7ZM665.1,121.1L684.7,114.8L694.5,112.8L709.2,116.2L728.7,122.1L714.1,126.0L699.4,124.5L679.8,123.6ZM885.3,140.7L895.1,137.3L914.6,139.2L929.3,140.7L948.9,140.7L968.4,141.7L944.0,144.1L919.5,145.6L904.8,145.6L890.2,144.1ZM1093.2,161.7L1103.0,159.8L1112.7,161.2L1105.4,163.2L1095.6,163.2ZM914.6,244.4L920.5,250.7L921.0,260.5L923.4,268.8L917.1,277.6L919.5,282.5L914.6,285.0L914.1,277.6L915.1,270.3L915.6,260.5L913.2,253.2ZM904.8,307.0L910.7,305.5L920.5,304.5L931.7,298.2L928.3,294.3L922.0,293.8L914.1,287.4L912.7,293.3L911.2,298.7L906.3,298.2L904.8,302.1ZM911.7,307.5L913.6,314.3L914.6,319.2L909.7,322.6L909.2,329.0L907.3,335.4L904.3,338.8L900.9,337.8L899.0,340.7L891.6,340.7L889.2,342.2L889.7,346.1L884.3,346.1L880.9,342.2L873.0,341.7L866.7,344.2L860.8,343.2L860.8,341.2L868.2,336.3L875.5,335.9L885.3,335.4L889.2,327.5L891.6,329.5L897.5,326.6L902.4,321.7L904.8,314.8L904.3,311.4L908.8,308.5ZM855.9,344.7L860.8,344.2L864.7,351.0L862.3,356.4L858.9,358.4L856.9,356.4L856.9,351.0L854.5,347.6ZM868.2,347.1L870.6,350.0L876.5,347.1L878.9,344.7L876.5,342.2L871.6,342.7L869.1,344.2ZM807.5,397.5L810.4,402.9L814.3,399.0L816.3,390.2L814.3,386.2L810.4,389.7ZM751.2,416.1L756.1,421.0L760.5,418.5L763.0,413.6L759.1,411.7L754.2,412.2ZM809.9,419.5L818.3,419.5L817.8,430.3L814.8,432.2L815.3,440.5L826.6,446.4L827.1,448.4L823.1,445.9L814.3,442.5L809.9,439.1L807.0,430.8L809.0,429.8ZM816.8,475.8L825.1,472.3L833.4,480.6L839.3,474.3L837.3,464.5L833.4,462.1L825.6,467.9L817.8,470.9ZM816.8,452.3L829.0,448.9L834.9,455.2L831.5,461.1L824.1,465.0L819.2,463.5L816.3,458.6ZM793.3,468.9L794.8,469.9L806.0,457.2L804.1,455.2ZM808.5,444.0L814.3,445.4L812.9,450.3L809.4,448.9ZM753.2,502.7L756.1,500.2L763.0,502.2L772.8,494.3L778.1,487.5L785.0,483.6L791.4,475.8L795.8,479.7L803.1,484.1L797.2,488.0L796.7,493.4L798.2,504.1L794.8,507.6L791.8,515.9L788.9,527.1L780.1,530.1L770.3,526.6L763.0,524.7L758.6,518.3L754.2,512.4ZM686.2,482.6L696.9,484.6L710.6,497.8L716.5,500.2L726.3,506.1L731.2,514.9L738.5,524.7L737.5,538.4L731.2,538.9L720.4,529.6L711.1,514.9L702.8,501.7L692.0,491.9ZM734.6,543.3L738.5,539.4L749.8,540.8L760.0,543.8L771.3,543.8L780.1,547.7L779.6,552.6L767.9,550.6L749.8,548.2L740.5,546.2ZM782.5,549.6L787.4,550.6L802.1,550.1L811.9,551.1L821.7,550.1L821.7,552.6L802.1,553.0L787.4,554.0L782.5,553.0ZM826.6,559.4L831.5,554.0L842.2,551.1L841.2,553.0L831.5,557.9L826.6,560.9ZM804.1,536.9L804.6,527.1L801.6,523.2L804.6,507.6L807.0,506.1L814.3,504.6L830.5,502.7L821.7,507.6L811.9,508.0L808.5,514.9L814.3,514.9L823.1,514.4L814.3,519.3L819.2,532.5L813.4,533.5L809.0,527.1L809.4,537.4ZM843.7,500.2L848.6,505.1L846.1,510.0L848.6,513.9L843.7,512.4L845.2,505.1ZM846.1,524.7L858.4,524.7L859.8,528.6L848.6,527.1ZM860.8,516.8L868.2,512.0L875.5,514.4L880.4,526.6L892.6,517.3L909.7,522.7L926.9,528.6L933.2,535.4L941.5,539.8L944.0,549.1L951.3,556.5L956.7,560.9L944.0,559.9L936.1,551.6L924.4,548.2L921.0,554.0L909.7,554.5L899.9,549.6L895.1,551.1L894.1,545.7L899.0,543.3L895.5,536.4L880.4,531.0L873.0,529.1L869.1,529.6L865.7,524.2L873.0,522.2L862.3,517.3ZM946.4,536.9L953.8,534.5L963.5,530.5L965.0,534.5L958.6,538.4L948.9,540.3ZM985.6,543.3L997.8,549.1L1010.0,556.5L1012.5,561.4L1002.7,557.9L990.4,551.6ZM610.8,480.2L617.2,479.7L620.6,473.3L617.2,467.0L611.8,462.1L610.4,469.9ZM461.2,568.7L467.0,585.8L463.1,593.2L456.3,615.2L450.4,631.8L441.1,635.2L433.8,628.9L431.8,617.6L437.2,608.3L435.2,595.6L437.7,589.2L447.5,586.8L452.4,580.9L458.7,571.1ZM378.0,340.3L386.3,339.3L389.3,335.4L381.4,336.8ZM335.0,337.3L348.7,337.8L347.2,338.8L338.9,338.3ZM280.7,324.1L296.3,322.6L293.9,330.5L281.6,326.1ZM260.6,309.4L267.9,308.5L267.4,317.8L264.0,319.2L261.1,318.7ZM262.6,300.1L266.0,299.7L266.5,304.5L265.0,307.5L262.1,305.5ZM273.3,236.1L281.6,236.1L281.1,240.0L274.8,240.0ZM775.2,617.6L776.7,637.2L778.1,647.0L782.5,656.8L786.0,666.5L782.5,676.3L789.9,681.2L797.2,681.2L807.0,675.8L824.1,675.8L836.4,668.0L851.0,664.6L860.8,664.1L875.5,669.0L883.3,680.7L887.7,673.9L894.1,671.4L892.6,677.8L895.1,684.1L897.5,680.2L903.9,688.5L907.3,695.9L922.0,699.8L928.8,695.4L936.1,701.3L944.9,694.9L953.8,693.4L957.7,678.8L960.1,674.9L966.0,668.0L971.4,650.4L968.9,637.2L967.9,633.8L958.6,625.0L951.3,619.1L947.9,609.8L935.7,602.5L931.3,589.7L930.8,582.9L922.9,578.5L922.0,572.1L917.1,562.3L912.7,571.6L912.2,585.8L908.8,595.6L902.4,595.6L892.6,589.2L882.8,583.4L888.7,577.5L889.2,569.7L880.4,569.7L868.6,566.3L860.8,569.7L856.9,573.6L853.5,582.9L846.1,582.9L840.3,577.5L832.4,580.9L827.5,589.7L817.8,595.6L814.3,602.9L802.1,607.8L792.3,610.8L781.1,616.6L777.7,616.6ZM927.3,709.1L945.4,710.1L944.0,721.3L936.6,723.3L930.3,716.4ZM1064.8,678.3L1073.6,686.1L1078.5,691.0L1093.2,694.4L1090.2,701.8L1085.3,703.7L1077.5,713.5L1074.1,712.0L1076.0,705.7L1070.2,701.8L1074.1,695.9L1072.6,688.5L1066.3,681.2ZM1064.8,708.1L1072.6,711.0L1071.6,714.5L1066.8,720.8L1065.3,724.3L1057.5,727.7L1055.0,734.5L1048.2,738.0L1041.8,738.4L1034.5,735.0L1035.4,731.1L1043.3,725.2L1055.5,718.9L1058.9,714.0L1061.9,709.6ZM1022.2,608.8L1029.6,612.7L1036.9,619.1L1034.5,620.1L1024.7,612.7ZM1087.3,595.6L1093.2,594.6L1093.7,598.5L1087.3,599.0L1095.6,589.7L1100.5,588.8L1098.1,592.2ZM1690.4,277.2L1694.8,270.3L1700.2,262.0L1709.0,257.6L1709.5,265.9L1719.3,268.8L1722.7,277.2L1719.3,282.0L1714.4,278.1L1708.1,280.1L1706.1,277.2L1694.8,277.2ZM1352.9,261.5L1367.1,263.5L1377.9,273.2L1371.0,272.3L1362.2,267.9L1354.4,264.9ZM1565.2,402.9L1570.1,398.5L1579.9,396.5L1589.7,397.0L1601.9,403.4L1610.7,406.8L1618.5,411.2L1611.7,412.7L1601.9,412.7L1599.5,408.7L1587.2,402.4L1579.9,401.9L1572.6,401.4L1565.7,403.4ZM1616.6,420.0L1624.9,412.7L1638.6,413.6L1646.4,419.0L1638.6,421.0L1631.7,423.9L1626.4,421.0L1617.1,421.5ZM1597.5,420.0L1608.3,421.0L1605.3,422.4L1598.0,421.0ZM1652.3,419.5L1660.1,420.0L1660.1,421.9L1652.3,421.9ZM1680.2,761.9L1692.4,760.9L1698.8,762.4L1694.8,765.8L1685.1,765.3L1681.2,763.4ZM1225.2,226.3L1236.0,224.8L1235.0,229.7L1226.2,232.6ZM1176.3,241.4L1166.5,245.8L1156.8,249.3L1149.4,251.7L1150.4,253.2L1159.2,251.2L1169.0,247.8L1177.3,243.4ZM1139.6,254.2L1120.1,255.9L1110.3,256.4L1110.3,257.6L1120.1,257.1L1139.6,255.4ZM1098.1,256.1L1085.8,255.1L1066.3,251.2L1066.3,252.2L1085.8,256.4L1098.1,257.1ZM931.3,296.7L938.1,295.3L948.4,288.4L947.4,287.4L936.6,293.3L930.8,295.7ZM951.3,286.0L956.2,284.0L961.6,280.6L960.6,279.6L955.2,283.0L950.8,285.0ZM963.5,279.1L970.9,274.2L977.2,268.8L982.1,264.4L984.1,262.5L983.1,261.5L978.2,265.4L973.3,270.3L967.5,274.2L963.0,278.1ZM1218.4,412.7L1222.8,413.6L1219.4,417.5L1217.4,415.1ZM1365.4,157.8L1370.8,150.6L1378.0,147.0L1388.8,146.1L1396.0,147.9L1392.4,154.2L1390.6,161.4L1381.6,160.5L1370.8,161.4ZM1396.0,156.0L1401.4,151.5L1414.0,149.7L1432.0,151.5L1441.0,150.6L1450.0,152.4L1460.8,150.6L1468.0,151.5L1475.2,154.2L1478.8,159.6L1484.2,165.0L1486.0,170.4L1482.4,174.0L1468.0,173.1L1450.0,174.0L1432.0,175.8L1419.4,173.1L1406.8,168.6L1401.4,163.2L1397.8,159.6ZM1379.8,137.1L1387.0,132.6L1397.8,130.8L1414.0,132.6L1419.4,134.4L1435.6,136.2L1444.6,134.4L1460.8,138.0L1462.6,143.4L1446.4,144.3L1428.4,144.3L1414.0,141.6L1396.0,142.5L1383.4,139.8ZM1419.4,129.0L1426.6,126.3L1437.4,125.0L1444.6,127.2L1437.4,129.9L1424.8,130.8ZM1464.4,123.6L1477.0,121.8L1493.2,124.5L1493.2,129.0L1486.0,132.6L1477.0,129.0L1468.0,127.2ZM1464.4,134.4L1475.2,132.6L1489.6,134.4L1504.0,134.4L1505.8,141.6L1489.6,143.4L1471.6,141.6ZM1500.4,124.5L1509.4,123.6L1522.0,126.3L1518.4,129.0L1507.6,129.0ZM1478.8,152.4L1486.0,148.8L1496.8,147.9L1505.8,148.8L1507.6,154.2L1504.0,159.6L1496.8,159.6L1486.0,156.0ZM1489.6,161.4L1496.8,159.6L1507.6,161.4L1513.0,168.6L1504.0,170.4L1495.0,168.6ZM1513.0,150.6L1518.4,147.9L1529.2,148.8L1532.8,152.4L1522.0,156.0L1514.8,156.0ZM1509.4,159.6L1516.6,157.8L1522.0,161.4L1518.4,166.8L1511.2,165.9ZM1527.4,137.1L1540.0,134.4L1558.0,133.5L1576.0,134.4L1592.2,136.2L1590.4,144.3L1576.0,144.3L1558.0,143.4L1540.0,142.5L1529.2,141.6ZM1509.4,117.3L1522.0,112.8L1534.6,109.2L1558.0,107.0L1585.0,104.7L1630.0,103.5L1680.4,106.1L1666.0,110.1L1648.0,112.8L1630.0,117.3L1621.0,121.8L1612.0,127.2L1599.4,130.8L1588.6,132.6L1567.0,130.8L1549.0,129.9L1540.0,132.6L1529.2,132.6L1532.8,127.2L1549.0,124.5L1563.4,121.8L1558.0,118.2L1540.0,119.1L1527.4,122.7L1516.6,121.8ZM1540.0,156.9L1543.6,152.4L1550.8,149.7L1563.4,147.9L1576.0,148.8L1585.0,150.6L1599.4,153.3L1608.4,156.9L1619.2,159.6L1630.0,161.4L1640.8,165.0L1648.0,170.4L1655.2,175.8L1666.0,181.2L1678.6,183.0L1671.4,185.7L1658.8,185.1L1649.8,187.5L1648.0,190.2L1655.2,195.6L1662.4,201.0L1664.2,208.2L1657.0,207.3L1648.0,203.7L1640.8,201.0L1630.0,199.2L1619.2,195.6L1608.4,192.9L1601.2,193.8L1599.4,190.2L1608.4,186.6L1621.0,183.0L1624.6,179.4L1621.0,175.8L1612.0,174.0L1603.0,174.9L1594.0,172.2L1585.0,169.5L1576.0,168.6L1567.0,166.8L1558.0,164.1L1550.8,161.4L1541.8,160.5ZM1556.2,190.2L1563.4,185.7L1576.0,186.6L1585.0,190.2L1583.2,199.2L1572.4,201.0L1561.6,199.2L1554.4,197.4ZM220.0,858.1L255.2,852.9L290.4,854.6L325.6,854.6L360.8,852.9L380.2,845.8L406.6,849.3L417.1,844.1L448.8,838.1L473.4,832.8L494.6,832.8L512.2,839.1L557.9,841.6L559.7,850.4L550.9,854.6L552.6,861.7L572.0,853.2L607.2,842.7L642.4,836.3L677.6,834.6L719.8,831.4L755.0,835.3L769.1,832.1L783.2,832.8L800.8,837.4L818.4,834.6L853.6,833.5L881.8,832.1L906.4,835.6L941.6,842.7L976.8,845.1L1012.0,852.2L1054.2,860.3L1040.2,866.2L1022.6,876.8L1020.8,887.4L1036.6,890.9L1008.5,896.2L1005.0,903.2L1029.6,910.2L1064.8,915.5L1100.0,920.8L1212.6,925.0L1254.9,903.9L1205.6,897.9L1205.6,887.4L1247.8,885.6L1276.0,878.6L1318.2,873.3L1392.2,872.2L1434.4,873.3L1487.2,875.7L1480.2,867.3L1504.8,864.5L1540.0,866.2L1575.2,868.0L1606.9,867.3L1645.6,862.7L1650.9,857.4L1638.6,846.9L1652.6,836.3L1670.2,829.3L1691.4,818.7L1705.4,815.2L1698.4,820.5L1680.8,829.3L1666.7,839.8L1663.2,846.9L1677.3,857.4L1684.3,866.2L1680.8,873.3L1663.2,878.6L1628.0,883.8L1603.4,885.6L1599.8,892.6L1610.4,899.7L1645.6,905.0L1677.3,910.2L1694.9,915.5L1733.6,912.0L1730.0,901.4L1740.6,892.0L1758.2,892.0L1768.8,899.7L1804.0,901.4L1839.2,899.7L1804.0,892.6L1839.2,887.4L1874.4,882.1L1902.6,871.5L1927.2,862.7L1951.8,855.7L1980.0,857.4L1990.0,857.4L1990.0,960.0L210.0,960.0L210.0,858.1Z" fill="none" stroke="#000" stroke-width="10" stroke-linejoin="round"/>
<path d="M192.6,333.9L189.2,331.5L183.8,328.0L176.5,329.0L177.0,321.7L173.5,320.7L176.5,313.4L177.0,305.0L174.5,299.7L179.4,296.7L185.8,296.7L191.6,296.7L201.4,297.2L211.2,297.7L213.6,292.3L214.1,284.0L209.2,279.1L198.5,276.2L196.5,273.2L205.3,271.3L212.2,271.8L210.7,266.9L214.1,268.4L220.5,267.9L227.8,264.4L228.8,260.5L235.7,259.1L239.6,256.1L243.0,251.2L246.9,249.3L254.2,248.3L261.6,247.8L262.1,241.4L260.1,236.1L260.1,232.2L267.0,229.7L271.9,227.7L271.4,230.7L270.4,234.6L273.3,234.6L269.9,237.0L267.9,241.0L268.9,243.4L273.8,245.8L279.7,244.9L287.5,245.4L290.0,246.3L298.3,244.4L305.6,241.9L311.0,243.9L315.9,243.4L322.7,239.5L323.2,236.1L322.7,231.2L330.6,227.7L337.4,231.2L339.4,224.8L335.0,221.9L340.8,218.9L357.0,218.9L367.7,217.0L361.9,215.5L349.6,214.5L342.3,215.5L332.0,217.5L324.7,213.1L325.2,207.7L325.7,201.3L332.5,197.4L342.3,192.5L344.7,192.0L340.3,188.6L328.6,189.1L324.7,194.5L319.3,197.9L310.5,201.8L305.6,204.8L304.6,209.2L304.1,213.1L311.5,216.0L312.5,219.4L308.1,221.4L301.7,226.3L300.2,232.6L297.3,235.1L290.0,236.1L283.6,239.0L283.1,236.6L281.6,233.6L278.2,227.7L274.8,223.8L273.8,221.4L271.9,217.0L269.9,221.4L264.0,223.3L254.2,226.3L247.4,222.9L245.9,218.9L244.5,214.5L244.5,209.2L246.4,205.2L254.2,202.3L261.6,199.4L268.9,196.9L273.8,193.0L281.1,187.1L288.5,180.8L295.8,175.9L303.2,173.5L312.9,168.6L322.7,166.6L335.0,164.2L346.2,162.2L357.0,162.7L371.6,166.1L381.4,170.5L396.1,172.0L410.8,176.4L420.6,180.3L422.0,184.7L415.7,187.1L405.9,186.7L391.2,185.7L381.4,183.7L379.0,182.3L383.9,187.1L388.8,192.0L390.2,194.5L398.5,196.9L403.4,195.0L414.7,194.0L418.1,192.0L423.0,187.1L435.2,185.7L435.7,175.9L445.0,176.4L459.7,178.3L481.7,175.9L484.2,173.5L506.2,174.9L513.5,170.0L542.9,170.0L545.3,174.9L552.6,172.5L555.1,165.1L562.4,155.4L574.6,153.9L574.6,160.2L572.2,177.4L579.5,184.7L586.9,182.3L587.9,162.7L596.7,155.4L606.4,157.8L613.8,150.5L613.8,157.8L621.1,167.6L630.9,162.7L645.6,148.0L674.9,138.2L709.2,135.8L730.2,129.9L743.4,133.3L767.9,138.2L775.2,145.6L758.1,149.5L777.7,150.5L797.2,150.5L821.7,152.9L841.2,160.2L851.0,153.9L860.8,162.7L880.4,159.8L899.9,155.8L909.7,153.9L934.2,156.3L953.8,159.8L978.2,162.7L997.8,163.2L1002.7,169.5L1027.1,169.5L1051.6,167.1L1080.9,168.6L1100.5,173.0L1125.0,179.8L1139.6,184.7L1150.9,186.7L1137.2,194.5L1115.2,190.6L1090.7,193.5L1095.6,204.3L1071.2,207.7L1051.6,216.5L1022.2,216.5L1019.8,217.5L1012.5,227.3L1014.9,235.1L1014.9,241.9L996.3,250.7L986.5,261.0L983.1,255.6L983.1,241.0L990.4,227.3L1002.7,214.1L1017.3,206.7L1002.7,209.2L983.1,209.2L963.5,220.4L957.7,218.5L929.3,219.9L914.6,221.4L904.8,226.3L890.2,243.4L907.3,249.3L912.2,250.7L907.3,265.4L899.9,277.6L885.3,294.8L865.7,299.2L855.9,302.1L854.5,309.4L846.1,316.8L853.0,329.0L853.0,336.3L851.0,338.3L838.8,341.2L838.8,333.9L838.8,326.6L832.4,325.6L830.0,316.8L816.8,319.2L812.9,320.2L814.3,311.9L816.8,310.9L811.9,309.9L802.1,317.8L795.8,320.2L799.7,326.6L804.6,328.0L810.4,325.1L819.7,327.1L808.5,333.9L803.6,339.8L810.9,351.0L815.8,357.9L816.8,363.2L814.3,370.6L809.4,375.5L804.6,382.8L797.2,390.2L789.9,397.5L780.1,399.9L775.2,401.4L763.0,404.8L759.1,410.7L757.1,404.8L750.7,403.9L741.0,409.7L737.5,417.1L741.0,424.4L749.3,431.7L754.7,446.4L754.2,453.7L743.4,459.1L733.6,467.9L732.7,467.9L733.6,461.1L728.7,458.6L721.4,451.3L713.6,447.9L711.6,444.0L708.7,448.9L705.3,459.6L710.6,469.4L711.1,478.2L716.5,483.1L725.8,490.4L729.7,503.2L725.8,503.6L715.5,496.3L710.6,483.6L708.2,478.2L700.9,470.9L701.8,458.6L702.8,448.9L697.4,429.3L689.6,427.8L681.3,431.7L682.3,419.5L672.5,407.3L669.1,400.9L663.2,402.4L655.4,403.9L645.6,404.8L644.6,409.7L635.8,415.6L621.1,429.8L612.8,434.2L612.8,446.4L610.4,459.6L606.0,466.0L599.1,470.4L593.2,463.5L590.8,455.2L585.9,446.4L579.5,431.7L576.6,417.1L575.6,407.3L574.6,403.9L562.4,408.7L557.5,400.9L563.9,398.0L555.1,395.0L547.7,388.7L545.3,385.8L523.3,386.7L503.7,384.3L500.3,383.3L495.9,377.4L484.2,379.4L474.4,374.0L469.5,368.6L465.6,363.2L458.7,361.8L454.8,363.7L457.2,370.6L463.6,377.9L465.6,382.8L467.5,386.7L469.5,382.3L472.4,386.2L471.9,390.2L479.3,392.1L486.6,391.1L493.9,384.8L495.9,381.3L495.4,388.2L501.3,393.6L507.6,398.5L512.5,399.9L506.2,409.7L502.7,417.1L496.4,421.9L489.0,426.8L474.4,433.7L459.7,440.5L442.6,446.4L432.8,447.9L430.3,439.1L428.9,431.7L423.0,419.5L410.8,404.8L408.3,395.0L403.4,390.2L395.1,375.5L389.3,372.5L391.2,365.7L387.8,374.0L383.9,370.6L379.0,363.7L379.5,365.7L383.9,375.5L388.8,385.3L394.1,393.6L402.0,407.3L403.4,419.5L408.3,422.9L413.2,434.2L423.0,442.5L431.8,451.3L437.7,459.1L449.9,455.7L459.7,454.7L470.9,452.3L469.5,459.1L467.0,466.0L459.7,480.6L452.4,488.5L442.6,500.2L425.5,512.4L416.6,522.2L411.8,533.0L412.2,543.3L413.2,551.6L418.1,561.4L418.6,580.9L417.1,588.3L401.0,597.1L392.2,612.7L393.7,626.4L380.9,636.7L379.5,644.5L371.6,656.3L366.8,662.6L357.0,671.4L345.7,676.3L327.6,677.3L317.8,680.2L310.5,677.8L309.5,671.4L304.1,656.8L294.4,640.6L290.9,622.0L285.5,612.2L278.7,600.5L277.7,593.2L280.2,578.5L286.0,570.2L284.6,556.5L280.2,539.4L279.7,536.9L273.8,528.6L266.5,517.3L265.5,507.6L266.5,492.9L262.6,488.0L249.4,489.0L246.9,483.6L242.0,478.7L227.3,479.7L210.2,486.5L200.4,484.6L183.3,488.5L173.5,483.1L163.7,476.2L155.4,468.4L154.0,463.5L146.6,457.2L138.3,449.3L134.4,438.1L139.3,431.7L140.8,417.1L136.4,407.3L141.7,393.6L149.1,381.8L156.4,375.0L163.7,371.6L172.1,365.7L173.0,360.3L172.1,353.5L178.4,347.1L186.7,343.2L191.1,334.9L194.1,334.4L205.8,337.3L215.1,335.4L227.3,331.0L234.7,330.0L244.5,330.0L261.6,329.5L268.9,327.5L273.8,329.0L270.9,331.5L273.8,336.3L268.9,342.7L276.3,347.6L294.4,352.0L295.8,356.9L308.1,359.8L317.8,358.4L318.3,352.0L325.2,349.1L333.5,352.5L343.3,355.4L361.9,358.8L371.6,355.4L378.0,356.9L387.3,356.9L391.2,349.6L393.7,341.2L396.1,334.9L397.1,331.0L388.8,330.0L379.0,333.4L369.7,329.5L361.9,331.0L353.5,328.5L349.6,321.7L351.1,316.8L348.2,313.8L347.2,310.4L339.8,309.9L335.9,312.9L335.0,314.3L330.6,311.9L330.6,316.8L332.5,319.7L337.4,323.1L333.5,326.6L332.0,331.5L329.6,331.9L326.1,330.0L323.2,325.1L324.2,322.2L321.3,318.2L318.3,315.8L314.9,312.9L315.4,307.0L310.5,302.6L303.2,298.7L297.8,296.7L293.4,292.3L289.5,289.4L286.5,287.4L280.2,288.4L280.7,292.3L286.5,297.2L289.5,302.6L298.3,306.0L304.1,309.4L310.5,313.8L310.0,315.3L303.2,311.9L300.7,316.8L303.6,319.2L300.7,322.2L296.3,324.1L297.3,316.8L296.3,313.8L292.4,311.4L289.5,310.4L287.0,308.5L281.1,307.0L277.7,304.5L273.8,302.1L271.4,299.7L269.9,295.3L264.0,292.8L259.1,295.3L255.7,296.2L250.3,299.2L244.5,298.2L239.6,297.2L235.2,299.7L235.7,303.1L230.8,307.5L224.4,309.4L218.5,316.8L221.0,320.7L217.6,322.6L216.1,326.1L212.2,329.0L209.2,330.5L198.5,330.5L194.1,333.4ZM1953.6,333.9L1950.2,331.5L1944.8,328.0L1937.5,329.0L1938.0,321.7L1934.5,320.7L1937.5,313.4L1938.0,305.0L1935.5,299.7L1940.4,296.7L1946.8,296.7L1952.6,296.7L1962.4,297.2L1972.2,297.7L1974.7,292.3L1975.1,284.0L1970.3,279.1L1959.5,276.2L1957.5,273.2L1966.3,271.3L1973.2,271.8L1971.7,266.9L1975.1,268.4L1981.5,267.9L1988.8,264.4L1989.8,260.5L1996.7,259.1L2000.6,256.1L2004.0,251.2L2007.9,249.3L2015.3,248.3L2022.6,247.8L2023.1,241.4L2021.1,236.1L2021.1,232.2L2028.0,229.7L2032.9,227.7L2032.4,230.7L2031.4,234.6L2034.3,234.6L2030.9,237.0L2029.0,241.0L2029.9,243.4L2034.8,245.8L2040.7,244.9L2048.5,245.4L2051.0,246.3L2059.3,244.4L2066.6,241.9L2072.0,243.9L2076.9,243.4L2083.7,239.5L2084.2,236.1L2083.7,231.2L2091.6,227.7L2098.4,231.2L2100.4,224.8L2096.0,221.9L2101.8,218.9L2118.0,218.9L2128.7,217.0L2122.9,215.5L2110.6,214.5L2103.3,215.5L2093.0,217.5L2085.7,213.1L2086.2,207.7L2086.7,201.3L2093.5,197.4L2103.3,192.5L2105.8,192.0L2101.3,188.6L2089.6,189.1L2085.7,194.5L2080.3,197.9L2071.5,201.8L2066.6,204.8L2065.6,209.2L2065.1,213.1L2072.5,216.0L2073.5,219.4L2069.1,221.4L2062.7,226.3L2061.2,232.6L2058.3,235.1L2051.0,236.1L2044.6,239.0L2044.1,236.6L2042.6,233.6L2039.2,227.7L2035.8,223.8L2034.8,221.4L2032.9,217.0L2030.9,221.4L2025.0,223.3L2015.3,226.3L2008.4,222.9L2006.9,218.9L2005.5,214.5L2005.5,209.2L2007.4,205.2L2015.3,202.3L2022.6,199.4L2029.9,196.9L2034.8,193.0L2042.2,187.1L2049.5,180.8L2056.8,175.9L2064.2,173.5L2074.0,168.6L2083.7,166.6L2096.0,164.2L2107.2,162.2L2118.0,162.7L2132.7,166.1L2142.4,170.5L2157.1,172.0L2171.8,176.4L2181.6,180.3L2183.0,184.7L2176.7,187.1L2166.9,186.7L2152.2,185.7L2142.4,183.7L2140.0,182.3L2144.9,187.1L2149.8,192.0L2151.2,194.5L2159.6,196.9L2164.5,195.0L2175.7,194.0L2179.1,192.0L2184.0,187.1L2196.2,185.7L2196.7,175.9L2206.0,176.4L2220.7,178.3L2242.7,175.9L2245.2,173.5L2267.2,174.9L2274.5,170.0L2303.9,170.0L2306.3,174.9L2313.6,172.5L2316.1,165.1L2323.4,155.4L2335.7,153.9L2335.7,160.2L2333.2,177.4L2340.6,184.7L2347.9,182.3L2348.9,162.7L2357.7,155.4L2367.5,157.8L2374.8,150.5L2374.8,157.8L2382.1,167.6L2391.9,162.7L2406.6,148.0L2435.9,138.2L2470.2,135.8L2491.2,129.9L2504.4,133.3L2528.9,138.2L2536.2,145.6L2519.1,149.5L2538.7,150.5L2558.2,150.5L2582.7,152.9L2602.3,160.2L2612.0,153.9L2621.8,162.7L2641.4,159.8L2661.0,155.8L2670.7,153.9L2695.2,156.3L2714.8,159.8L2739.2,162.7L2758.8,163.2L2763.7,169.5L2788.1,169.5L2812.6,167.1L2842.0,168.6L2861.5,173.0L2886.0,179.8L2900.7,184.7L2911.9,186.7L2898.2,194.5L2876.2,190.6L2851.7,193.5L2856.6,204.3L2832.2,207.7L2812.6,216.5L2783.3,216.5L2780.8,217.5L2773.5,227.3L2775.9,235.1L2775.9,241.9L2757.3,250.7L2747.5,261.0L2744.1,255.6L2744.1,241.0L2751.5,227.3L2763.7,214.1L2778.4,206.7L2763.7,209.2L2744.1,209.2L2724.6,220.4L2718.7,218.5L2690.3,219.9L2675.6,221.4L2665.9,226.3L2651.2,243.4L2668.3,249.3L2673.2,250.7L2668.3,265.4L2661.0,277.6L2646.3,294.8L2626.7,299.2L2616.9,302.1L2615.5,309.4L2607.1,316.8L2614.0,329.0L2614.0,336.3L2612.0,338.3L2599.8,341.2L2599.8,333.9L2599.8,326.6L2593.5,325.6L2591.0,316.8L2577.8,319.2L2573.9,320.2L2575.4,311.9L2577.8,310.9L2572.9,309.9L2563.1,317.8L2556.8,320.2L2560.7,326.6L2565.6,328.0L2571.4,325.1L2580.7,327.1L2569.5,333.9L2564.6,339.8L2571.9,351.0L2576.8,357.9L2577.8,363.2L2575.4,370.6L2570.5,375.5L2565.6,382.8L2558.2,390.2L2550.9,397.5L2541.1,399.9L2536.2,401.4L2524.0,404.8L2520.1,410.7L2518.1,404.8L2511.8,403.9L2502.0,409.7L2498.6,417.1L2502.0,424.4L2510.3,431.7L2515.7,446.4L2515.2,453.7L2504.4,459.1L2494.6,467.9L2493.7,467.9L2494.6,461.1L2489.7,458.6L2482.4,451.3L2474.6,447.9L2472.6,444.0L2469.7,448.9L2466.3,459.6L2471.6,469.4L2472.1,478.2L2477.5,483.1L2486.8,490.4L2490.7,503.2L2486.8,503.6L2476.5,496.3L2471.6,483.6L2469.2,478.2L2461.9,470.9L2462.8,458.6L2463.8,448.9L2458.4,429.3L2450.6,427.8L2442.3,431.7L2443.3,419.5L2433.5,407.3L2430.1,400.9L2424.2,402.4L2416.4,403.9L2406.6,404.8L2405.6,409.7L2396.8,415.6L2382.1,429.8L2373.8,434.2L2373.8,446.4L2371.4,459.6L2367.0,466.0L2360.1,470.4L2354.2,463.5L2351.8,455.2L2346.9,446.4L2340.6,431.7L2337.6,417.1L2336.6,407.3L2335.7,403.9L2323.4,408.7L2318.5,400.9L2324.9,398.0L2316.1,395.0L2308.8,388.7L2306.3,385.8L2284.3,386.7L2264.7,384.3L2261.3,383.3L2256.9,377.4L2245.2,379.4L2235.4,374.0L2230.5,368.6L2226.6,363.2L2219.7,361.8L2215.8,363.7L2218.3,370.6L2224.6,377.9L2226.6,382.8L2228.5,386.7L2230.5,382.3L2233.4,386.2L2232.9,390.2L2240.3,392.1L2247.6,391.1L2254.9,384.8L2256.9,381.3L2256.4,388.2L2262.3,393.6L2268.6,398.5L2273.5,399.9L2267.2,409.7L2263.8,417.1L2257.4,421.9L2250.1,426.8L2235.4,433.7L2220.7,440.5L2203.6,446.4L2193.8,447.9L2191.4,439.1L2189.9,431.7L2184.0,419.5L2171.8,404.8L2169.3,395.0L2164.5,390.2L2156.1,375.5L2150.3,372.5L2152.2,365.7L2148.8,374.0L2144.9,370.6L2140.0,363.7L2140.5,365.7L2144.9,375.5L2149.8,385.3L2155.2,393.6L2163.0,407.3L2164.5,419.5L2169.3,422.9L2174.2,434.2L2184.0,442.5L2192.8,451.3L2198.7,459.1L2210.9,455.7L2220.7,454.7L2232.0,452.3L2230.5,459.1L2228.0,466.0L2220.7,480.6L2213.4,488.5L2203.6,500.2L2186.5,512.4L2177.7,522.2L2172.8,533.0L2173.3,543.3L2174.2,551.6L2179.1,561.4L2179.6,580.9L2178.1,588.3L2162.0,597.1L2153.2,612.7L2154.7,626.4L2141.9,636.7L2140.5,644.5L2132.7,656.3L2127.8,662.6L2118.0,671.4L2106.7,676.3L2088.6,677.3L2078.8,680.2L2071.5,677.8L2070.5,671.4L2065.1,656.8L2055.4,640.6L2051.9,622.0L2046.6,612.2L2039.7,600.5L2038.7,593.2L2041.2,578.5L2047.0,570.2L2045.6,556.5L2041.2,539.4L2040.7,536.9L2034.8,528.6L2027.5,517.3L2026.5,507.6L2027.5,492.9L2023.6,488.0L2010.4,489.0L2007.9,483.6L2003.0,478.7L1988.3,479.7L1971.2,486.5L1961.4,484.6L1944.3,488.5L1934.5,483.1L1924.8,476.2L1916.4,468.4L1915.0,463.5L1907.6,457.2L1899.3,449.3L1895.4,438.1L1900.3,431.7L1901.8,417.1L1897.4,407.3L1902.7,393.6L1910.1,381.8L1917.4,375.0L1924.8,371.6L1933.1,365.7L1934.1,360.3L1933.1,353.5L1939.4,347.1L1947.7,343.2L1952.2,334.9L1955.1,334.4L1966.8,337.3L1976.1,335.4L1988.3,331.0L1995.7,330.0L2005.5,330.0L2022.6,329.5L2029.9,327.5L2034.8,329.0L2031.9,331.5L2034.8,336.3L2029.9,342.7L2037.3,347.6L2055.4,352.0L2056.8,356.9L2069.1,359.8L2078.8,358.4L2079.3,352.0L2086.2,349.1L2094.5,352.5L2104.3,355.4L2122.9,358.8L2132.7,355.4L2139.0,356.9L2148.3,356.9L2152.2,349.6L2154.7,341.2L2157.1,334.9L2158.1,331.0L2149.8,330.0L2140.0,333.4L2130.7,329.5L2122.9,331.0L2114.6,328.5L2110.6,321.7L2112.1,316.8L2109.2,313.8L2108.2,310.4L2100.9,309.9L2096.9,312.9L2096.0,314.3L2091.6,311.9L2091.6,316.8L2093.5,319.7L2098.4,323.1L2094.5,326.6L2093.0,331.5L2090.6,331.9L2087.2,330.0L2084.2,325.1L2085.2,322.2L2082.3,318.2L2079.3,315.8L2075.9,312.9L2076.4,307.0L2071.5,302.6L2064.2,298.7L2058.8,296.7L2054.4,292.3L2050.5,289.4L2047.5,287.4L2041.2,288.4L2041.7,292.3L2047.5,297.2L2050.5,302.6L2059.3,306.0L2065.1,309.4L2071.5,313.8L2071.0,315.3L2064.2,311.9L2061.7,316.8L2064.7,319.2L2061.7,322.2L2057.3,324.1L2058.3,316.8L2057.3,313.8L2053.4,311.4L2050.5,310.4L2048.0,308.5L2042.2,307.0L2038.7,304.5L2034.8,302.1L2032.4,299.7L2030.9,295.3L2025.0,292.8L2020.1,295.3L2016.7,296.2L2011.3,299.2L2005.5,298.2L2000.6,297.2L1996.2,299.7L1996.7,303.1L1991.8,307.5L1985.4,309.4L1979.5,316.8L1982.0,320.7L1978.6,322.6L1977.1,326.1L1973.2,329.0L1970.3,330.5L1959.5,330.5L1955.1,333.4ZM1159.2,189.1L1169.0,185.7L1178.8,184.7L1188.6,182.7L1178.8,178.3L1165.1,175.9L1183.7,169.0L1198.3,164.6L1215.5,161.2L1237.5,163.2L1257.0,166.1L1281.5,167.1L1291.3,169.0L1310.8,172.5L1320.6,170.0L1345.1,167.6L1360.0,168.6L1370.8,166.8L1379.8,168.6L1396.0,169.5L1406.8,173.1L1417.6,177.6L1435.6,178.5L1450.0,178.5L1460.8,175.8L1471.6,174.9L1486.0,177.6L1496.8,178.5L1509.4,179.0L1513.0,173.1L1518.4,170.4L1525.6,168.6L1532.8,172.2L1538.2,173.1L1540.0,168.6L1545.4,172.2L1550.8,178.5L1556.2,179.4L1559.8,173.1L1562.5,168.6L1567.0,167.7L1574.2,169.5L1581.4,173.1L1584.1,179.4L1578.7,183.9L1572.4,184.8L1561.6,185.1L1556.2,190.2L1550.8,193.8L1540.0,198.3L1529.2,204.6L1520.2,210.0L1516.6,217.2L1518.4,223.5L1529.2,229.8L1547.2,233.4L1563.4,237.9L1576.0,241.5L1578.7,247.8L1581.4,255.0L1585.0,259.5L1592.2,255.0L1594.0,246.0L1601.2,238.8L1605.7,231.6L1601.2,224.4L1599.4,215.4L1599.4,206.4L1604.8,201.0L1615.6,202.8L1626.4,206.4L1637.2,210.0L1640.8,217.2L1648.0,224.4L1655.2,220.8L1660.6,215.4L1662.4,210.0L1666.0,211.8L1669.6,219.0L1675.0,228.0L1682.2,237.0L1689.4,244.2L1696.6,251.4L1702.0,255.0L1702.2,258.1L1687.5,264.4L1667.9,264.4L1655.7,265.4L1643.5,272.8L1633.7,281.1L1641.0,276.2L1655.7,269.3L1666.5,271.3L1661.6,275.2L1664.0,282.5L1667.9,285.5L1682.6,287.4L1687.5,284.0L1680.2,288.9L1670.4,292.3L1658.2,297.2L1665.5,288.4L1655.7,288.4L1653.3,290.9L1643.5,294.8L1635.2,299.7L1634.2,303.1L1638.6,305.5L1631.3,308.0L1628.8,309.4L1619.0,311.4L1619.0,316.3L1614.1,319.7L1611.7,324.1L1609.2,329.0L1611.7,337.8L1604.4,341.2L1594.6,346.1L1584.8,353.5L1582.8,361.8L1589.2,377.9L1589.2,384.8L1586.3,387.2L1581.4,383.3L1576.5,375.5L1576.5,369.1L1570.1,362.8L1563.3,364.7L1555.4,361.3L1543.2,362.3L1544.7,367.2L1538.3,367.7L1531.0,365.2L1518.7,365.7L1505.5,374.0L1504.6,383.8L1503.1,397.5L1502.6,402.4L1505.5,408.7L1511.4,415.6L1518.7,421.0L1531.0,419.0L1538.3,413.1L1539.3,407.3L1555.4,404.8L1556.4,412.2L1553.0,419.5L1549.1,431.7L1560.3,432.2L1573.5,436.6L1572.6,451.3L1571.6,456.7L1579.9,466.0L1592.1,463.0L1601.9,467.4L1609.2,464.5L1611.7,458.6L1618.0,455.2L1627.8,451.8L1631.3,449.3L1629.8,456.2L1631.3,457.2L1638.6,453.7L1648.4,458.6L1658.2,458.1L1667.9,458.1L1677.7,457.7L1678.2,460.6L1682.6,466.0L1694.8,475.8L1712.0,481.1L1724.2,485.5L1731.5,490.4L1736.4,505.1L1738.9,510.0L1746.2,514.9L1763.3,522.2L1775.6,523.7L1790.2,527.1L1800.0,534.0L1808.3,535.9L1810.8,546.7L1808.8,555.5L1800.0,563.8L1792.7,573.6L1790.2,583.4L1789.3,595.6L1782.9,610.3L1778.0,620.1L1769.7,622.0L1756.0,627.4L1743.8,637.2L1743.3,649.4L1734.0,659.2L1724.2,671.4L1719.3,676.3L1712.5,680.7L1706.1,680.7L1699.7,678.8L1695.3,679.3L1699.7,683.7L1702.2,688.5L1699.7,695.9L1677.7,700.8L1676.3,708.1L1663.1,710.6L1667.9,717.9L1670.4,719.4L1663.1,721.3L1660.6,730.1L1650.8,737.5L1658.2,743.8L1648.4,755.6L1643.5,761.9L1646.4,765.8L1645.4,771.7L1653.3,778.6L1663.1,779.0L1648.4,781.5L1631.3,774.2L1616.6,766.8L1611.7,754.6L1611.7,744.8L1619.0,735.0L1619.0,722.8L1620.5,713.0L1621.5,691.0L1625.9,681.2L1630.8,671.4L1631.7,656.8L1632.2,642.1L1636.1,625.0L1637.6,600.5L1626.4,590.7L1607.8,576.0L1602.9,568.7L1594.6,549.1L1583.3,534.5L1588.2,527.1L1589.7,522.2L1584.8,514.9L1589.7,506.1L1595.5,501.2L1601.9,492.9L1602.4,478.2L1599.5,473.3L1597.0,469.4L1589.7,474.3L1582.3,470.4L1575.0,469.4L1561.8,461.1L1561.3,455.2L1553.0,446.9L1545.7,444.0L1533.4,441.5L1526.1,434.2L1518.7,430.8L1509.0,433.2L1499.2,430.8L1484.5,424.4L1469.8,417.1L1464.9,409.7L1465.9,404.8L1462.5,397.5L1452.7,387.7L1445.4,380.4L1438.0,373.0L1430.7,365.7L1420.9,355.9L1419.4,354.4L1425.8,368.1L1430.7,375.5L1440.5,390.2L1445.4,397.5L1442.9,398.0L1433.1,388.7L1423.4,374.5L1418.5,365.7L1411.1,355.9L1407.7,350.0L1401.3,343.7L1391.1,340.7L1384.7,331.5L1381.8,325.1L1375.4,316.8L1373.0,311.9L1372.0,300.6L1374.4,284.0L1371.0,273.2L1380.3,272.8L1377.9,269.3L1372.0,265.4L1357.3,260.5L1354.9,253.2L1345.1,243.4L1337.8,238.5L1328.0,228.7L1315.7,223.8L1298.6,218.0L1281.5,216.5L1266.8,213.1L1257.0,214.1L1247.3,210.6L1239.9,219.9L1238.5,220.4L1227.7,223.8L1217.9,231.2L1205.7,236.1L1188.6,241.0L1176.3,243.4L1183.7,240.0L1198.3,233.6L1210.6,225.3L1208.1,222.4L1191.0,222.9L1188.6,218.0L1176.3,214.1L1172.9,206.7L1175.3,201.3L1193.4,199.4L1193.4,194.5L1183.7,194.0L1166.5,194.0ZM1623.9,126.0L1648.4,137.7L1682.6,137.7L1697.3,140.7L1707.1,148.0L1712.0,157.8L1719.3,165.1L1731.5,172.5L1719.3,182.3L1726.6,194.5L1736.4,204.3L1746.2,211.6L1760.9,216.5L1768.2,217.5L1775.6,211.6L1782.9,196.9L1800.0,189.1L1824.5,175.9L1858.7,170.0L1873.4,162.7L1873.4,152.9L1888.1,145.6L1888.1,134.3L1893.0,126.0L1890.5,116.2L1922.3,111.3L1897.9,108.9L1858.7,102.5L1809.8,101.1L1760.9,105.0L1721.8,107.9L1687.5,108.9L1677.7,112.3L1663.1,114.8L1653.3,117.7L1633.7,122.6ZM192.1,264.9L202.9,263.5L215.1,262.0L226.8,259.5L228.3,252.7L221.5,251.2L220.0,248.3L219.5,245.4L214.1,242.9L212.2,238.0L209.7,236.1L207.8,233.1L210.2,230.7L211.2,228.2L202.9,227.7L204.8,223.3L195.5,223.3L194.1,225.3L192.1,228.2L192.6,233.6L192.6,239.5L196.0,237.5L195.5,241.9L203.4,241.4L204.3,244.9L205.8,248.8L197.5,249.3L199.5,251.7L199.9,254.2L194.1,256.6L200.4,257.6L205.3,258.1L202.9,259.5L198.5,260.5ZM1953.1,264.9L1963.9,263.5L1976.1,262.0L1987.9,259.5L1989.3,252.7L1982.5,251.2L1981.0,248.3L1980.5,245.4L1975.1,242.9L1973.2,238.0L1970.7,236.1L1968.8,233.1L1971.2,230.7L1972.2,228.2L1963.9,227.7L1965.8,223.3L1956.6,223.3L1955.1,225.3L1953.1,228.2L1953.6,233.6L1953.6,239.5L1957.0,237.5L1956.6,241.9L1964.4,241.4L1965.4,244.9L1966.8,248.8L1958.5,249.3L1960.5,251.7L1961.0,254.2L1955.1,256.6L1961.4,257.6L1966.3,258.1L1963.9,259.5L1959.5,260.5ZM1951.7,254.7L1950.2,249.3L1951.2,245.8L1954.1,244.4L1951.7,240.0L1945.3,239.0L1939.4,241.0L1939.4,244.9L1932.1,244.9L1932.6,248.8L1937.0,250.3L1932.6,254.7L1930.1,256.1L1934.5,258.1L1941.9,256.6L1950.2,254.7ZM1873.4,196.9L1863.6,189.6L1870.9,185.7L1893.0,186.2L1907.6,185.2L1915.0,191.1L1908.6,195.5L1893.0,199.9L1878.3,197.9ZM273.8,126.0L278.7,119.6L298.3,118.7L317.8,116.7L332.5,118.7L352.1,117.7L342.3,122.6L322.7,124.5L308.1,128.4L300.7,135.8L288.5,131.9L286.0,128.4ZM471.9,162.7L479.3,150.5L493.9,143.1L508.6,137.3L528.2,134.3L555.1,133.3L542.9,138.2L523.3,141.7L503.7,148.0L493.9,152.9L496.4,162.7L489.0,165.1ZM449.9,118.7L464.6,114.8L489.0,112.8L513.5,113.8L528.2,116.2L503.7,117.7L474.4,118.7ZM665.1,121.1L684.7,114.8L694.5,112.8L709.2,116.2L728.7,122.1L714.1,126.0L699.4,124.5L679.8,123.6ZM885.3,140.7L895.1,137.3L914.6,139.2L929.3,140.7L948.9,140.7L968.4,141.7L944.0,144.1L919.5,145.6L904.8,145.6L890.2,144.1ZM1093.2,161.7L1103.0,159.8L1112.7,161.2L1105.4,163.2L1095.6,163.2ZM914.6,244.4L920.5,250.7L921.0,260.5L923.4,268.8L917.1,277.6L919.5,282.5L914.6,285.0L914.1,277.6L915.1,270.3L915.6,260.5L913.2,253.2ZM904.8,307.0L910.7,305.5L920.5,304.5L931.7,298.2L928.3,294.3L922.0,293.8L914.1,287.4L912.7,293.3L911.2,298.7L906.3,298.2L904.8,302.1ZM911.7,307.5L913.6,314.3L914.6,319.2L909.7,322.6L909.2,329.0L907.3,335.4L904.3,338.8L900.9,337.8L899.0,340.7L891.6,340.7L889.2,342.2L889.7,346.1L884.3,346.1L880.9,342.2L873.0,341.7L866.7,344.2L860.8,343.2L860.8,341.2L868.2,336.3L875.5,335.9L885.3,335.4L889.2,327.5L891.6,329.5L897.5,326.6L902.4,321.7L904.8,314.8L904.3,311.4L908.8,308.5ZM855.9,344.7L860.8,344.2L864.7,351.0L862.3,356.4L858.9,358.4L856.9,356.4L856.9,351.0L854.5,347.6ZM868.2,347.1L870.6,350.0L876.5,347.1L878.9,344.7L876.5,342.2L871.6,342.7L869.1,344.2ZM807.5,397.5L810.4,402.9L814.3,399.0L816.3,390.2L814.3,386.2L810.4,389.7ZM751.2,416.1L756.1,421.0L760.5,418.5L763.0,413.6L759.1,411.7L754.2,412.2ZM809.9,419.5L818.3,419.5L817.8,430.3L814.8,432.2L815.3,440.5L826.6,446.4L827.1,448.4L823.1,445.9L814.3,442.5L809.9,439.1L807.0,430.8L809.0,429.8ZM816.8,475.8L825.1,472.3L833.4,480.6L839.3,474.3L837.3,464.5L833.4,462.1L825.6,467.9L817.8,470.9ZM816.8,452.3L829.0,448.9L834.9,455.2L831.5,461.1L824.1,465.0L819.2,463.5L816.3,458.6ZM793.3,468.9L794.8,469.9L806.0,457.2L804.1,455.2ZM808.5,444.0L814.3,445.4L812.9,450.3L809.4,448.9ZM753.2,502.7L756.1,500.2L763.0,502.2L772.8,494.3L778.1,487.5L785.0,483.6L791.4,475.8L795.8,479.7L803.1,484.1L797.2,488.0L796.7,493.4L798.2,504.1L794.8,507.6L791.8,515.9L788.9,527.1L780.1,530.1L770.3,526.6L763.0,524.7L758.6,518.3L754.2,512.4ZM686.2,482.6L696.9,484.6L710.6,497.8L716.5,500.2L726.3,506.1L731.2,514.9L738.5,524.7L737.5,538.4L731.2,538.9L720.4,529.6L711.1,514.9L702.8,501.7L692.0,491.9ZM734.6,543.3L738.5,539.4L749.8,540.8L760.0,543.8L771.3,543.8L780.1,547.7L779.6,552.6L767.9,550.6L749.8,548.2L740.5,546.2ZM782.5,549.6L787.4,550.6L802.1,550.1L811.9,551.1L821.7,550.1L821.7,552.6L802.1,553.0L787.4,554.0L782.5,553.0ZM826.6,559.4L831.5,554.0L842.2,551.1L841.2,553.0L831.5,557.9L826.6,560.9ZM804.1,536.9L804.6,527.1L801.6,523.2L804.6,507.6L807.0,506.1L814.3,504.6L830.5,502.7L821.7,507.6L811.9,508.0L808.5,514.9L814.3,514.9L823.1,514.4L814.3,519.3L819.2,532.5L813.4,533.5L809.0,527.1L809.4,537.4ZM843.7,500.2L848.6,505.1L846.1,510.0L848.6,513.9L843.7,512.4L845.2,505.1ZM846.1,524.7L858.4,524.7L859.8,528.6L848.6,527.1ZM860.8,516.8L868.2,512.0L875.5,514.4L880.4,526.6L892.6,517.3L909.7,522.7L926.9,528.6L933.2,535.4L941.5,539.8L944.0,549.1L951.3,556.5L956.7,560.9L944.0,559.9L936.1,551.6L924.4,548.2L921.0,554.0L909.7,554.5L899.9,549.6L895.1,551.1L894.1,545.7L899.0,543.3L895.5,536.4L880.4,531.0L873.0,529.1L869.1,529.6L865.7,524.2L873.0,522.2L862.3,517.3ZM946.4,536.9L953.8,534.5L963.5,530.5L965.0,534.5L958.6,538.4L948.9,540.3ZM985.6,543.3L997.8,549.1L1010.0,556.5L1012.5,561.4L1002.7,557.9L990.4,551.6ZM610.8,480.2L617.2,479.7L620.6,473.3L617.2,467.0L611.8,462.1L610.4,469.9ZM461.2,568.7L467.0,585.8L463.1,593.2L456.3,615.2L450.4,631.8L441.1,635.2L433.8,628.9L431.8,617.6L437.2,608.3L435.2,595.6L437.7,589.2L447.5,586.8L452.4,580.9L458.7,571.1ZM378.0,340.3L386.3,339.3L389.3,335.4L381.4,336.8ZM335.0,337.3L348.7,337.8L347.2,338.8L338.9,338.3ZM280.7,324.1L296.3,322.6L293.9,330.5L281.6,326.1ZM260.6,309.4L267.9,308.5L267.4,317.8L264.0,319.2L261.1,318.7ZM262.6,300.1L266.0,299.7L266.5,304.5L265.0,307.5L262.1,305.5ZM273.3,236.1L281.6,236.1L281.1,240.0L274.8,240.0ZM775.2,617.6L776.7,637.2L778.1,647.0L782.5,656.8L786.0,666.5L782.5,676.3L789.9,681.2L797.2,681.2L807.0,675.8L824.1,675.8L836.4,668.0L851.0,664.6L860.8,664.1L875.5,669.0L883.3,680.7L887.7,673.9L894.1,671.4L892.6,677.8L895.1,684.1L897.5,680.2L903.9,688.5L907.3,695.9L922.0,699.8L928.8,695.4L936.1,701.3L944.9,694.9L953.8,693.4L957.7,678.8L960.1,674.9L966.0,668.0L971.4,650.4L968.9,637.2L967.9,633.8L958.6,625.0L951.3,619.1L947.9,609.8L935.7,602.5L931.3,589.7L930.8,582.9L922.9,578.5L922.0,572.1L917.1,562.3L912.7,571.6L912.2,585.8L908.8,595.6L902.4,595.6L892.6,589.2L882.8,583.4L888.7,577.5L889.2,569.7L880.4,569.7L868.6,566.3L860.8,569.7L856.9,573.6L853.5,582.9L846.1,582.9L840.3,577.5L832.4,580.9L827.5,589.7L817.8,595.6L814.3,602.9L802.1,607.8L792.3,610.8L781.1,616.6L777.7,616.6ZM927.3,709.1L945.4,710.1L944.0,721.3L936.6,723.3L930.3,716.4ZM1064.8,678.3L1073.6,686.1L1078.5,691.0L1093.2,694.4L1090.2,701.8L1085.3,703.7L1077.5,713.5L1074.1,712.0L1076.0,705.7L1070.2,701.8L1074.1,695.9L1072.6,688.5L1066.3,681.2ZM1064.8,708.1L1072.6,711.0L1071.6,714.5L1066.8,720.8L1065.3,724.3L1057.5,727.7L1055.0,734.5L1048.2,738.0L1041.8,738.4L1034.5,735.0L1035.4,731.1L1043.3,725.2L1055.5,718.9L1058.9,714.0L1061.9,709.6ZM1022.2,608.8L1029.6,612.7L1036.9,619.1L1034.5,620.1L1024.7,612.7ZM1087.3,595.6L1093.2,594.6L1093.7,598.5L1087.3,599.0L1095.6,589.7L1100.5,588.8L1098.1,592.2ZM1690.4,277.2L1694.8,270.3L1700.2,262.0L1709.0,257.6L1709.5,265.9L1719.3,268.8L1722.7,277.2L1719.3,282.0L1714.4,278.1L1708.1,280.1L1706.1,277.2L1694.8,277.2ZM1352.9,261.5L1367.1,263.5L1377.9,273.2L1371.0,272.3L1362.2,267.9L1354.4,264.9ZM1565.2,402.9L1570.1,398.5L1579.9,396.5L1589.7,397.0L1601.9,403.4L1610.7,406.8L1618.5,411.2L1611.7,412.7L1601.9,412.7L1599.5,408.7L1587.2,402.4L1579.9,401.9L1572.6,401.4L1565.7,403.4ZM1616.6,420.0L1624.9,412.7L1638.6,413.6L1646.4,419.0L1638.6,421.0L1631.7,423.9L1626.4,421.0L1617.1,421.5ZM1597.5,420.0L1608.3,421.0L1605.3,422.4L1598.0,421.0ZM1652.3,419.5L1660.1,420.0L1660.1,421.9L1652.3,421.9ZM1680.2,761.9L1692.4,760.9L1698.8,762.4L1694.8,765.8L1685.1,765.3L1681.2,763.4ZM1225.2,226.3L1236.0,224.8L1235.0,229.7L1226.2,232.6ZM1176.3,241.4L1166.5,245.8L1156.8,249.3L1149.4,251.7L1150.4,253.2L1159.2,251.2L1169.0,247.8L1177.3,243.4ZM1139.6,254.2L1120.1,255.9L1110.3,256.4L1110.3,257.6L1120.1,257.1L1139.6,255.4ZM1098.1,256.1L1085.8,255.1L1066.3,251.2L1066.3,252.2L1085.8,256.4L1098.1,257.1ZM931.3,296.7L938.1,295.3L948.4,288.4L947.4,287.4L936.6,293.3L930.8,295.7ZM951.3,286.0L956.2,284.0L961.6,280.6L960.6,279.6L955.2,283.0L950.8,285.0ZM963.5,279.1L970.9,274.2L977.2,268.8L982.1,264.4L984.1,262.5L983.1,261.5L978.2,265.4L973.3,270.3L967.5,274.2L963.0,278.1ZM1218.4,412.7L1222.8,413.6L1219.4,417.5L1217.4,415.1ZM1365.4,157.8L1370.8,150.6L1378.0,147.0L1388.8,146.1L1396.0,147.9L1392.4,154.2L1390.6,161.4L1381.6,160.5L1370.8,161.4ZM1396.0,156.0L1401.4,151.5L1414.0,149.7L1432.0,151.5L1441.0,150.6L1450.0,152.4L1460.8,150.6L1468.0,151.5L1475.2,154.2L1478.8,159.6L1484.2,165.0L1486.0,170.4L1482.4,174.0L1468.0,173.1L1450.0,174.0L1432.0,175.8L1419.4,173.1L1406.8,168.6L1401.4,163.2L1397.8,159.6ZM1379.8,137.1L1387.0,132.6L1397.8,130.8L1414.0,132.6L1419.4,134.4L1435.6,136.2L1444.6,134.4L1460.8,138.0L1462.6,143.4L1446.4,144.3L1428.4,144.3L1414.0,141.6L1396.0,142.5L1383.4,139.8ZM1419.4,129.0L1426.6,126.3L1437.4,125.0L1444.6,127.2L1437.4,129.9L1424.8,130.8ZM1464.4,123.6L1477.0,121.8L1493.2,124.5L1493.2,129.0L1486.0,132.6L1477.0,129.0L1468.0,127.2ZM1464.4,134.4L1475.2,132.6L1489.6,134.4L1504.0,134.4L1505.8,141.6L1489.6,143.4L1471.6,141.6ZM1500.4,124.5L1509.4,123.6L1522.0,126.3L1518.4,129.0L1507.6,129.0ZM1478.8,152.4L1486.0,148.8L1496.8,147.9L1505.8,148.8L1507.6,154.2L1504.0,159.6L1496.8,159.6L1486.0,156.0ZM1489.6,161.4L1496.8,159.6L1507.6,161.4L1513.0,168.6L1504.0,170.4L1495.0,168.6ZM1513.0,150.6L1518.4,147.9L1529.2,148.8L1532.8,152.4L1522.0,156.0L1514.8,156.0ZM1509.4,159.6L1516.6,157.8L1522.0,161.4L1518.4,166.8L1511.2,165.9ZM1527.4,137.1L1540.0,134.4L1558.0,133.5L1576.0,134.4L1592.2,136.2L1590.4,144.3L1576.0,144.3L1558.0,143.4L1540.0,142.5L1529.2,141.6ZM1509.4,117.3L1522.0,112.8L1534.6,109.2L1558.0,107.0L1585.0,104.7L1630.0,103.5L1680.4,106.1L1666.0,110.1L1648.0,112.8L1630.0,117.3L1621.0,121.8L1612.0,127.2L1599.4,130.8L1588.6,132.6L1567.0,130.8L1549.0,129.9L1540.0,132.6L1529.2,132.6L1532.8,127.2L1549.0,124.5L1563.4,121.8L1558.0,118.2L1540.0,119.1L1527.4,122.7L1516.6,121.8ZM1540.0,156.9L1543.6,152.4L1550.8,149.7L1563.4,147.9L1576.0,148.8L1585.0,150.6L1599.4,153.3L1608.4,156.9L1619.2,159.6L1630.0,161.4L1640.8,165.0L1648.0,170.4L1655.2,175.8L1666.0,181.2L1678.6,183.0L1671.4,185.7L1658.8,185.1L1649.8,187.5L1648.0,190.2L1655.2,195.6L1662.4,201.0L1664.2,208.2L1657.0,207.3L1648.0,203.7L1640.8,201.0L1630.0,199.2L1619.2,195.6L1608.4,192.9L1601.2,193.8L1599.4,190.2L1608.4,186.6L1621.0,183.0L1624.6,179.4L1621.0,175.8L1612.0,174.0L1603.0,174.9L1594.0,172.2L1585.0,169.5L1576.0,168.6L1567.0,166.8L1558.0,164.1L1550.8,161.4L1541.8,160.5ZM1556.2,190.2L1563.4,185.7L1576.0,186.6L1585.0,190.2L1583.2,199.2L1572.4,201.0L1561.6,199.2L1554.4,197.4ZM220.0,858.1L255.2,852.9L290.4,854.6L325.6,854.6L360.8,852.9L380.2,845.8L406.6,849.3L417.1,844.1L448.8,838.1L473.4,832.8L494.6,832.8L512.2,839.1L557.9,841.6L559.7,850.4L550.9,854.6L552.6,861.7L572.0,853.2L607.2,842.7L642.4,836.3L677.6,834.6L719.8,831.4L755.0,835.3L769.1,832.1L783.2,832.8L800.8,837.4L818.4,834.6L853.6,833.5L881.8,832.1L906.4,835.6L941.6,842.7L976.8,845.1L1012.0,852.2L1054.2,860.3L1040.2,866.2L1022.6,876.8L1020.8,887.4L1036.6,890.9L1008.5,896.2L1005.0,903.2L1029.6,910.2L1064.8,915.5L1100.0,920.8L1212.6,925.0L1254.9,903.9L1205.6,897.9L1205.6,887.4L1247.8,885.6L1276.0,878.6L1318.2,873.3L1392.2,872.2L1434.4,873.3L1487.2,875.7L1480.2,867.3L1504.8,864.5L1540.0,866.2L1575.2,868.0L1606.9,867.3L1645.6,862.7L1650.9,857.4L1638.6,846.9L1652.6,836.3L1670.2,829.3L1691.4,818.7L1705.4,815.2L1698.4,820.5L1680.8,829.3L1666.7,839.8L1663.2,846.9L1677.3,857.4L1684.3,866.2L1680.8,873.3L1663.2,878.6L1628.0,883.8L1603.4,885.6L1599.8,892.6L1610.4,899.7L1645.6,905.0L1677.3,910.2L1694.9,915.5L1733.6,912.0L1730.0,901.4L1740.6,892.0L1758.2,892.0L1768.8,899.7L1804.0,901.4L1839.2,899.7L1804.0,892.6L1839.2,887.4L1874.4,882.1L1902.6,871.5L1927.2,862.7L1951.8,855.7L1980.0,857.4L1990.0,857.4L1990.0,960.0L210.0,960.0L210.0,858.1Z" fill="#efefdb" fill-rule="nonzero"/>
<path d="M357.0,306.5L361.9,308.5L374.1,308.5L383.9,304.5L391.2,304.5L398.5,308.0L408.3,309.9L418.1,309.4L423.5,306.5L423.0,301.6L413.2,294.8L405.9,291.3L402.5,288.9L405.9,285.0L411.8,279.1L405.9,280.1L393.7,282.5L391.2,287.4L398.5,288.4L392.7,290.4L384.9,292.8L379.0,288.4L383.9,285.5L376.5,282.5L370.2,282.5L365.3,288.9L360.4,294.8L356.0,301.1ZM459.7,282.5L471.9,280.1L479.3,281.6L479.3,288.4L470.9,293.3L477.8,302.1L478.3,308.5L484.2,310.4L479.3,316.8L483.2,326.6L471.9,330.0L464.6,327.1L459.7,322.6L462.1,314.3L457.2,305.5L452.4,299.7L451.4,292.3L449.9,287.4ZM349.6,312.9L354.5,312.6L361.9,312.6L366.3,310.8L361.9,309.4L357.0,309.4L352.1,309.9L350.1,311.4Z" fill="#000"/>
<path d="M220.00,69.0V950.4M513.50,69.0V950.4M807.00,69.0V950.4M1100.51,69.0V950.4M1394.01,69.0V950.4M1687.51,69.0V950.4M1981.01,69.0V950.4M220.0,118.66H1980.8M220.0,216.50H1980.8M220.0,314.33H1980.8M220.0,412.17H1980.8M220.0,510.00H1980.8M220.0,607.83H1980.8M220.0,705.67H1980.8M220.0,803.50H1980.8M220.0,901.34H1980.8" stroke="#b0b0b0" stroke-width="1" fill="none"/>
</g>
<rect x="220.0" y="69.0" width="1760.8" height="881.4" fill="none" stroke="#000" stroke-width="1.3"/>
<text x="562.5" y="61.2" textLength="1073" lengthAdjust="spacingAndGlyphs" style="font-size:37.8px">SMOS Morning Pass Retrieved Wind Speed on 2024-Jun-20</text>
<text x="212" y="129.5" text-anchor="end">80°N</text><text x="1986" y="129.5">80°N</text><text x="212" y="227.3" text-anchor="end">60°N</text><text x="1986" y="227.3">60°N</text><text x="212" y="325.1" text-anchor="end">40°N</text><text x="1986" y="325.1">40°N</text><text x="212" y="423.0" text-anchor="end">20°N</text><text x="1986" y="423.0">20°N</text><text x="212" y="520.8" text-anchor="end">0°</text><text x="1986" y="520.8">0°</text><text x="212" y="618.6" text-anchor="end">20°S</text><text x="1986" y="618.6">20°S</text><text x="212" y="716.5" text-anchor="end">40°S</text><text x="1986" y="716.5">40°S</text><text x="212" y="814.3" text-anchor="end">60°S</text><text x="1986" y="814.3">60°S</text><text x="212" y="912.1" text-anchor="end">80°S</text><text x="1986" y="912.1">80°S</text><text x="220.0" y="979" text-anchor="middle">0°</text><text x="513.5" y="979" text-anchor="middle">60°E</text><text x="807.0" y="979" text-anchor="middle">120°E</text><text x="1100.5" y="979" text-anchor="middle">180°W</text><text x="1394.0" y="979" text-anchor="middle">120°W</text><text x="1687.5" y="979" text-anchor="middle">60°W</text>
<rect x="2102.5" y="69.5" width="44.1" height="880.9" fill="url(#cbg)" stroke="#000" stroke-width="1.2"/>
<path d="M2146.6,950.4h5" stroke="#000" stroke-width="1.1"/><text x="2156" y="961.2">0</text><path d="M2146.6,824.6h5" stroke="#000" stroke-width="1.1"/><text x="2156" y="835.4">5</text><path d="M2146.6,698.7h5" stroke="#000" stroke-width="1.1"/><text x="2156" y="709.5">10</text><path d="M2146.6,572.9h5" stroke="#000" stroke-width="1.1"/><text x="2156" y="583.7">15</text><path d="M2146.6,447.0h5" stroke="#000" stroke-width="1.1"/><text x="2156" y="457.8">20</text><path d="M2146.6,321.2h5" stroke="#000" stroke-width="1.1"/><text x="2156" y="332.0">25</text><path d="M2146.6,195.3h5" stroke="#000" stroke-width="1.1"/><text x="2156" y="206.1">30</text><path d="M2146.6,69.5h5" stroke="#000" stroke-width="1.1"/><text x="2156" y="80.3">35</text>
<text transform="translate(2222,510.2) rotate(-90)" text-anchor="middle" style="font-size:30.8px">retrieved wind speed [m s-1]</text>
</svg>
</body></html>
